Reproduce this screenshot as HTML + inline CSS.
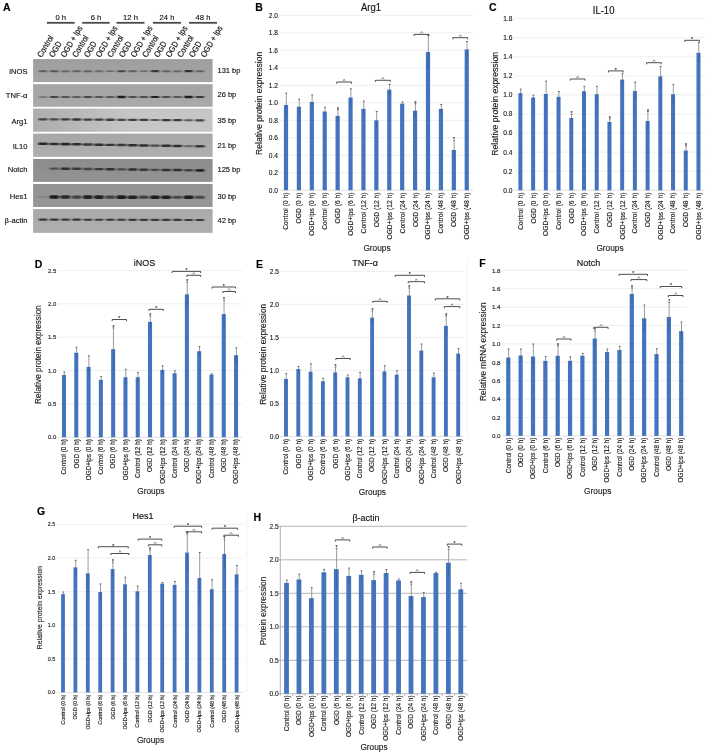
<!DOCTYPE html>
<html><head><meta charset="utf-8"><title>Figure</title>
<style>
html,body{margin:0;padding:0;background:#fff;}
body{width:708px;height:755px;overflow:hidden;}
svg{display:block;font-family:"Liberation Sans", sans-serif;filter:blur(0.35px);}
text{stroke:currentColor;stroke-width:0.14px;}
</style></head><body>
<svg width="708" height="755" viewBox="0 0 708 755">
<rect x="0" y="0" width="708" height="755" fill="#fff"/>
<text x="3" y="11" font-size="10.5" text-anchor="start" font-weight="bold" fill="#000" color="#000">A</text>
<defs><filter id="bb" x="-20%" y="-200%" width="140%" height="500%"><feGaussianBlur stdDeviation="0.9 0.6"/></filter>
<linearGradient id="g0" x1="0" y1="0" x2="0" y2="1"><stop offset="0" stop-color="#9e9e9e"/><stop offset="1" stop-color="#a6a6a6"/></linearGradient>
<linearGradient id="g1" x1="0" y1="0" x2="0" y2="1"><stop offset="0" stop-color="#a3a3a3"/><stop offset="1" stop-color="#aaaaaa"/></linearGradient>
<linearGradient id="g2" x1="0" y1="0" x2="1" y2="0"><stop offset="0" stop-color="#adadad"/><stop offset="0.55" stop-color="#c6c6c6"/><stop offset="1" stop-color="#c6c6c6"/></linearGradient>
<linearGradient id="g3" x1="0" y1="0" x2="0" y2="1"><stop offset="0" stop-color="#a7a7a7"/><stop offset="1" stop-color="#afafaf"/></linearGradient>
<linearGradient id="g4" x1="0" y1="0" x2="0" y2="1"><stop offset="0" stop-color="#8c8c8c"/><stop offset="1" stop-color="#939393"/></linearGradient>
<linearGradient id="g5" x1="0" y1="0" x2="0" y2="1"><stop offset="0" stop-color="#939393"/><stop offset="1" stop-color="#979797"/></linearGradient>
<linearGradient id="g6" x1="0" y1="0" x2="0" y2="1"><stop offset="0" stop-color="#a9a9a9"/><stop offset="1" stop-color="#afafaf"/></linearGradient>
</defs>
<rect x="33.1" y="59.1" width="179.5" height="23" fill="url(#g0)"/>
<text x="27.5" y="74" font-size="7.6" text-anchor="end" fill="#111" color="#111">iNOS</text>
<text x="217.5" y="73" font-size="7.5" text-anchor="start" fill="#111" color="#111">131 bp</text>
<g filter="url(#bb)"><rect x="38.7" y="70.22" width="8.6" height="1.96" rx="0.98" fill="rgb(92,92,92)"/><rect x="49.9" y="70.19" width="8.6" height="2.01" rx="1.01" fill="rgb(85,85,85)"/><rect x="61.1" y="70.27" width="8.6" height="1.86" rx="0.93" fill="rgb(104,104,104)"/><rect x="72.3" y="70.24" width="8.6" height="1.93" rx="0.96" fill="rgb(95,95,95)"/><rect x="83.5" y="70.24" width="8.6" height="1.93" rx="0.96" fill="rgb(95,95,95)"/><rect x="94.7" y="70.27" width="8.6" height="1.86" rx="0.93" fill="rgb(104,104,104)"/><rect x="105.9" y="70.3" width="8.6" height="1.81" rx="0.9" fill="rgb(111,111,111)"/><rect x="117.1" y="70.13" width="8.6" height="2.14" rx="1.07" fill="rgb(69,69,69)"/><rect x="128.3" y="70.22" width="8.6" height="1.96" rx="0.98" fill="rgb(92,92,92)"/><rect x="139.5" y="70.3" width="8.6" height="1.81" rx="0.9" fill="rgb(111,111,111)"/><rect x="150.7" y="70.08" width="8.6" height="2.24" rx="1.12" fill="rgb(56,56,56)"/><rect x="161.9" y="70.25" width="8.6" height="1.91" rx="0.95" fill="rgb(98,98,98)"/><rect x="173.1" y="70.27" width="8.6" height="1.86" rx="0.93" fill="rgb(104,104,104)"/><rect x="184.3" y="70.04" width="8.6" height="2.32" rx="1.16" fill="rgb(46,46,46)"/><rect x="195.5" y="70.25" width="8.6" height="1.91" rx="0.95" fill="rgb(98,98,98)"/></g>
<rect x="33.1" y="84.2" width="179.5" height="22.6" fill="url(#g1)"/>
<text x="27.5" y="98.2" font-size="7.6" text-anchor="end" fill="#111" color="#111">TNF-α</text>
<text x="217.5" y="96.7" font-size="7.5" text-anchor="start" fill="#111" color="#111">26 bp</text>
<g filter="url(#bb)"><rect x="38.5" y="96.18" width="9" height="1.65" rx="0.82" fill="rgb(111,111,111)"/><rect x="49.7" y="96.02" width="9" height="1.95" rx="0.98" fill="rgb(69,69,69)"/><rect x="60.9" y="96.08" width="9" height="1.84" rx="0.92" fill="rgb(85,85,85)"/><rect x="72.1" y="96.1" width="9" height="1.79" rx="0.9" fill="rgb(92,92,92)"/><rect x="83.3" y="96.02" width="9" height="1.95" rx="0.98" fill="rgb(69,69,69)"/><rect x="94.5" y="96.08" width="9" height="1.84" rx="0.92" fill="rgb(85,85,85)"/><rect x="105.7" y="96.08" width="9" height="1.84" rx="0.92" fill="rgb(85,85,85)"/><rect x="116.9" y="95.87" width="9" height="2.26" rx="1.13" fill="rgb(26,26,26)"/><rect x="128.1" y="96.06" width="9" height="1.88" rx="0.94" fill="rgb(78,78,78)"/><rect x="139.3" y="96.06" width="9" height="1.88" rx="0.94" fill="rgb(78,78,78)"/><rect x="150.5" y="95.88" width="9" height="2.23" rx="1.12" fill="rgb(30,30,30)"/><rect x="161.7" y="96.06" width="9" height="1.88" rx="0.94" fill="rgb(78,78,78)"/><rect x="172.9" y="96.08" width="9" height="1.84" rx="0.92" fill="rgb(85,85,85)"/><rect x="184.1" y="95.87" width="9" height="2.26" rx="1.13" fill="rgb(26,26,26)"/><rect x="195.3" y="95.98" width="9" height="2.05" rx="1.02" fill="rgb(56,56,56)"/></g>
<rect x="33.1" y="108.6" width="179.5" height="23.2" fill="url(#g2)"/>
<text x="27.5" y="124.4" font-size="7.6" text-anchor="end" fill="#111" color="#111">Arg1</text>
<text x="217.5" y="123.4" font-size="7.5" text-anchor="start" fill="#111" color="#111">35 bp</text>
<g filter="url(#bb)"><rect x="38.3" y="118.17" width="9.4" height="2.26" rx="1.13" fill="rgb(66,66,66)"/><rect x="49.5" y="118.27" width="9.4" height="2.21" rx="1.1" fill="rgb(72,72,72)"/><rect x="60.7" y="118.28" width="9.4" height="2.32" rx="1.16" fill="rgb(59,59,59)"/><rect x="71.9" y="118.33" width="9.4" height="2.37" rx="1.19" fill="rgb(52,52,52)"/><rect x="83.1" y="118.43" width="9.4" height="2.32" rx="1.16" fill="rgb(59,59,59)"/><rect x="94.3" y="118.5" width="9.4" height="2.32" rx="1.16" fill="rgb(59,59,59)"/><rect x="105.5" y="118.57" width="9.4" height="2.32" rx="1.16" fill="rgb(59,59,59)"/><rect x="116.7" y="118.7" width="9.4" height="2.21" rx="1.1" fill="rgb(72,72,72)"/><rect x="127.9" y="118.71" width="9.4" height="2.32" rx="1.16" fill="rgb(59,59,59)"/><rect x="139.1" y="118.78" width="9.4" height="2.32" rx="1.16" fill="rgb(59,59,59)"/><rect x="150.3" y="118.96" width="9.4" height="2.1" rx="1.05" fill="rgb(85,85,85)"/><rect x="161.5" y="118.9" width="9.4" height="2.37" rx="1.19" fill="rgb(52,52,52)"/><rect x="172.7" y="119" width="9.4" height="2.32" rx="1.16" fill="rgb(59,59,59)"/><rect x="183.9" y="119.21" width="9.4" height="2.05" rx="1.02" fill="rgb(92,92,92)"/><rect x="195.1" y="119.17" width="9.4" height="2.26" rx="1.13" fill="rgb(66,66,66)"/></g>
<rect x="33.1" y="133.6" width="179.5" height="23.3" fill="url(#g3)"/>
<text x="27.5" y="149.4" font-size="7.6" text-anchor="end" fill="#111" color="#111">IL10</text>
<text x="217.5" y="148.4" font-size="7.5" text-anchor="start" fill="#111" color="#111">21 bp</text>
<g filter="url(#bb)"><rect x="38" y="142.51" width="10" height="2.58" rx="1.29" fill="rgb(40,40,40)"/><rect x="49.2" y="142.72" width="10" height="2.52" rx="1.26" fill="rgb(46,46,46)"/><rect x="60.4" y="142.87" width="10" height="2.58" rx="1.29" fill="rgb(40,40,40)"/><rect x="71.6" y="143.07" width="10" height="2.52" rx="1.26" fill="rgb(46,46,46)"/><rect x="82.8" y="143.28" width="10" height="2.47" rx="1.23" fill="rgb(52,52,52)"/><rect x="94" y="143.43" width="10" height="2.52" rx="1.26" fill="rgb(46,46,46)"/><rect x="105.2" y="143.64" width="10" height="2.47" rx="1.23" fill="rgb(52,52,52)"/><rect x="116.4" y="143.84" width="10" height="2.41" rx="1.21" fill="rgb(59,59,59)"/><rect x="127.6" y="143.97" width="10" height="2.52" rx="1.26" fill="rgb(46,46,46)"/><rect x="138.8" y="144.14" width="10" height="2.52" rx="1.26" fill="rgb(46,46,46)"/><rect x="150" y="144.44" width="10" height="2.3" rx="1.15" fill="rgb(72,72,72)"/><rect x="161.2" y="144.5" width="10" height="2.52" rx="1.26" fill="rgb(46,46,46)"/><rect x="172.4" y="144.68" width="10" height="2.52" rx="1.26" fill="rgb(46,46,46)"/><rect x="183.6" y="145.11" width="10" height="2.02" rx="1.01" fill="rgb(104,104,104)"/><rect x="194.8" y="145.09" width="10" height="2.41" rx="1.21" fill="rgb(59,59,59)"/></g>
<rect x="33.1" y="159" width="179.5" height="22.9" fill="url(#g4)"/>
<text x="27.5" y="172" font-size="7.6" text-anchor="end" fill="#111" color="#111">Notch</text>
<text x="217.5" y="171.7" font-size="7.5" text-anchor="start" fill="#111" color="#111">125 bp</text>
<g filter="url(#bb)"><rect x="49.5" y="167.42" width="9.4" height="2.24" rx="1.12" fill="rgb(78,78,78)"/><rect x="60.7" y="167.42" width="9.4" height="2.52" rx="1.26" fill="rgb(46,46,46)"/><rect x="71.9" y="167.59" width="9.4" height="2.47" rx="1.23" fill="rgb(52,52,52)"/><rect x="83.1" y="167.79" width="9.4" height="2.36" rx="1.18" fill="rgb(66,66,66)"/><rect x="94.3" y="167.88" width="9.4" height="2.47" rx="1.23" fill="rgb(52,52,52)"/><rect x="105.5" y="167.99" width="9.4" height="2.52" rx="1.26" fill="rgb(46,46,46)"/><rect x="116.7" y="168.25" width="9.4" height="2.3" rx="1.15" fill="rgb(72,72,72)"/><rect x="127.9" y="168.28" width="9.4" height="2.52" rx="1.26" fill="rgb(46,46,46)"/><rect x="139.1" y="168.45" width="9.4" height="2.47" rx="1.23" fill="rgb(52,52,52)"/><rect x="150.3" y="168.68" width="9.4" height="2.3" rx="1.15" fill="rgb(72,72,72)"/><rect x="161.5" y="168.71" width="9.4" height="2.52" rx="1.26" fill="rgb(46,46,46)"/><rect x="172.7" y="168.85" width="9.4" height="2.52" rx="1.26" fill="rgb(46,46,46)"/><rect x="183.9" y="169.08" width="9.4" height="2.36" rx="1.18" fill="rgb(66,66,66)"/><rect x="195.1" y="169.11" width="9.4" height="2.58" rx="1.29" fill="rgb(40,40,40)"/></g>
<rect x="33.1" y="184" width="179.5" height="23" fill="url(#g5)"/>
<text x="27.5" y="198.5" font-size="7.6" text-anchor="end" fill="#111" color="#111">Hes1</text>
<text x="217.5" y="198.5" font-size="7.5" text-anchor="start" fill="#111" color="#111">30 bp</text>
<g filter="url(#bb)"><rect x="38" y="195.8" width="10" height="2.39" rx="1.2" fill="rgb(134,134,134)"/><rect x="49.2" y="195.19" width="10" height="3.66" rx="1.83" fill="rgb(26,26,26)"/><rect x="60.4" y="195.29" width="10" height="3.51" rx="1.76" fill="rgb(40,40,40)"/><rect x="71.6" y="195.46" width="10" height="3.2" rx="1.6" fill="rgb(66,66,66)"/><rect x="82.8" y="195.29" width="10" height="3.59" rx="1.79" fill="rgb(33,33,33)"/><rect x="94" y="195.31" width="10" height="3.59" rx="1.79" fill="rgb(33,33,33)"/><rect x="105.2" y="195.53" width="10" height="3.2" rx="1.6" fill="rgb(66,66,66)"/><rect x="116.4" y="195.32" width="10" height="3.66" rx="1.83" fill="rgb(26,26,26)"/><rect x="127.6" y="195.38" width="10" height="3.59" rx="1.79" fill="rgb(33,33,33)"/><rect x="138.8" y="195.59" width="10" height="3.2" rx="1.6" fill="rgb(66,66,66)"/><rect x="150" y="195.38" width="10" height="3.66" rx="1.83" fill="rgb(26,26,26)"/><rect x="161.2" y="195.44" width="10" height="3.59" rx="1.79" fill="rgb(33,33,33)"/><rect x="172.4" y="195.69" width="10" height="3.13" rx="1.56" fill="rgb(72,72,72)"/><rect x="183.6" y="195.45" width="10" height="3.66" rx="1.83" fill="rgb(26,26,26)"/><rect x="194.8" y="195.74" width="10" height="3.13" rx="1.56" fill="rgb(72,72,72)"/></g>
<rect x="33.1" y="209.1" width="179.5" height="23.8" fill="url(#g6)"/>
<text x="27.5" y="222.8" font-size="7.6" text-anchor="end" fill="#111" color="#111">β-actin</text>
<text x="217.5" y="222.5" font-size="7.5" text-anchor="start" fill="#111" color="#111">42 bp</text>
<g filter="url(#bb)"><rect x="38.5" y="218.51" width="9" height="2.17" rx="1.09" fill="rgb(52,52,52)"/><rect x="49.7" y="218.54" width="9" height="2.17" rx="1.09" fill="rgb(52,52,52)"/><rect x="60.9" y="218.6" width="9" height="2.12" rx="1.06" fill="rgb(59,59,59)"/><rect x="72.1" y="218.6" width="9" height="2.17" rx="1.09" fill="rgb(52,52,52)"/><rect x="83.3" y="218.63" width="9" height="2.17" rx="1.09" fill="rgb(52,52,52)"/><rect x="94.5" y="218.68" width="9" height="2.12" rx="1.06" fill="rgb(59,59,59)"/><rect x="105.7" y="218.69" width="9" height="2.17" rx="1.09" fill="rgb(52,52,52)"/><rect x="116.9" y="218.73" width="9" height="2.14" rx="1.07" fill="rgb(56,56,56)"/><rect x="128.1" y="218.76" width="9" height="2.14" rx="1.07" fill="rgb(56,56,56)"/><rect x="139.3" y="218.79" width="9" height="2.14" rx="1.07" fill="rgb(56,56,56)"/><rect x="150.5" y="218.82" width="9" height="2.12" rx="1.06" fill="rgb(59,59,59)"/><rect x="161.7" y="218.84" width="9" height="2.14" rx="1.07" fill="rgb(56,56,56)"/><rect x="172.9" y="218.87" width="9" height="2.14" rx="1.07" fill="rgb(56,56,56)"/><rect x="184.1" y="218.9" width="9" height="2.14" rx="1.07" fill="rgb(56,56,56)"/><rect x="195.3" y="218.93" width="9" height="2.14" rx="1.07" fill="rgb(56,56,56)"/></g>
<line x1="46.9" y1="22.8" x2="74.7" y2="22.8" stroke="#4a4a4a" stroke-width="1.8"/>
<text x="60.8" y="19.6" font-size="7.6" text-anchor="middle" fill="#111" color="#111">0 h</text>
<line x1="82.2" y1="22.8" x2="109.7" y2="22.8" stroke="#4a4a4a" stroke-width="1.8"/>
<text x="95.95" y="19.6" font-size="7.6" text-anchor="middle" fill="#111" color="#111">6 h</text>
<line x1="116.5" y1="22.8" x2="144.5" y2="22.8" stroke="#4a4a4a" stroke-width="1.8"/>
<text x="130.5" y="19.6" font-size="7.6" text-anchor="middle" fill="#111" color="#111">12 h</text>
<line x1="153" y1="22.8" x2="181" y2="22.8" stroke="#4a4a4a" stroke-width="1.8"/>
<text x="167" y="19.6" font-size="7.6" text-anchor="middle" fill="#111" color="#111">24 h</text>
<line x1="189" y1="22.8" x2="217" y2="22.8" stroke="#4a4a4a" stroke-width="1.8"/>
<text x="203" y="19.6" font-size="7.6" text-anchor="middle" fill="#111" color="#111">48 h</text>
<text font-size="7.4" fill="#111" color="#111" transform="translate(41.8 58) rotate(-59.5) scale(1 1.15)">Control</text>
<text font-size="7.4" fill="#111" color="#111" transform="translate(53.47 58) rotate(-59.5) scale(1 1.15)">OGD</text>
<text font-size="7.4" fill="#111" color="#111" transform="translate(65.14 58) rotate(-59.5) scale(1 1.15)">OGD + lps</text>
<text font-size="7.4" fill="#111" color="#111" transform="translate(76.81 58) rotate(-59.5) scale(1 1.15)">Control</text>
<text font-size="7.4" fill="#111" color="#111" transform="translate(88.48 58) rotate(-59.5) scale(1 1.15)">OGD</text>
<text font-size="7.4" fill="#111" color="#111" transform="translate(100.15 58) rotate(-59.5) scale(1 1.15)">OGD + lps</text>
<text font-size="7.4" fill="#111" color="#111" transform="translate(111.82 58) rotate(-59.5) scale(1 1.15)">Control</text>
<text font-size="7.4" fill="#111" color="#111" transform="translate(123.49 58) rotate(-59.5) scale(1 1.15)">OGD</text>
<text font-size="7.4" fill="#111" color="#111" transform="translate(135.16 58) rotate(-59.5) scale(1 1.15)">OGD + lps</text>
<text font-size="7.4" fill="#111" color="#111" transform="translate(146.83 58) rotate(-59.5) scale(1 1.15)">Control</text>
<text font-size="7.4" fill="#111" color="#111" transform="translate(158.5 58) rotate(-59.5) scale(1 1.15)">OGD</text>
<text font-size="7.4" fill="#111" color="#111" transform="translate(170.17 58) rotate(-59.5) scale(1 1.15)">OGD + lps</text>
<text font-size="7.4" fill="#111" color="#111" transform="translate(181.84 58) rotate(-59.5) scale(1 1.15)">Control</text>
<text font-size="7.4" fill="#111" color="#111" transform="translate(193.51 58) rotate(-59.5) scale(1 1.15)">OGD</text>
<text font-size="7.4" fill="#111" color="#111" transform="translate(205.18 58) rotate(-59.5) scale(1 1.15)">OGD + lps</text>
<line x1="279.55" y1="190.25" x2="473.19" y2="190.25" stroke="#d9d9d9" stroke-width="0.8"/>
<text x="277.94" y="192.63" font-size="6.6" text-anchor="end" fill="#222" color="#222">0.0</text>
<line x1="279.55" y1="172.75" x2="473.19" y2="172.75" stroke="#ebebeb" stroke-width="0.8"/>
<text x="277.94" y="175.13" font-size="6.6" text-anchor="end" fill="#222" color="#222">0.2</text>
<line x1="279.55" y1="155.25" x2="473.19" y2="155.25" stroke="#ebebeb" stroke-width="0.8"/>
<text x="277.94" y="157.63" font-size="6.6" text-anchor="end" fill="#222" color="#222">0.4</text>
<line x1="279.55" y1="137.75" x2="473.19" y2="137.75" stroke="#ebebeb" stroke-width="0.8"/>
<text x="277.94" y="140.13" font-size="6.6" text-anchor="end" fill="#222" color="#222">0.6</text>
<line x1="279.55" y1="120.25" x2="473.19" y2="120.25" stroke="#ebebeb" stroke-width="0.8"/>
<text x="277.94" y="122.63" font-size="6.6" text-anchor="end" fill="#222" color="#222">0.8</text>
<line x1="279.55" y1="102.75" x2="473.19" y2="102.75" stroke="#ebebeb" stroke-width="0.8"/>
<text x="277.94" y="105.13" font-size="6.6" text-anchor="end" fill="#222" color="#222">1.0</text>
<line x1="279.55" y1="85.25" x2="473.19" y2="85.25" stroke="#ebebeb" stroke-width="0.8"/>
<text x="277.94" y="87.63" font-size="6.6" text-anchor="end" fill="#222" color="#222">1.2</text>
<line x1="279.55" y1="67.75" x2="473.19" y2="67.75" stroke="#ebebeb" stroke-width="0.8"/>
<text x="277.94" y="70.13" font-size="6.6" text-anchor="end" fill="#222" color="#222">1.4</text>
<line x1="279.55" y1="50.25" x2="473.19" y2="50.25" stroke="#ebebeb" stroke-width="0.8"/>
<text x="277.94" y="52.63" font-size="6.6" text-anchor="end" fill="#222" color="#222">1.6</text>
<line x1="279.55" y1="32.75" x2="473.19" y2="32.75" stroke="#ebebeb" stroke-width="0.8"/>
<text x="277.94" y="35.13" font-size="6.6" text-anchor="end" fill="#222" color="#222">1.8</text>
<line x1="279.55" y1="15.25" x2="473.19" y2="15.25" stroke="#ebebeb" stroke-width="0.8"/>
<text x="277.94" y="17.63" font-size="6.6" text-anchor="end" fill="#222" color="#222">2.0</text>
<rect x="283.9" y="104.94" width="4.2" height="85.31" fill="#4474bd"/>
<line x1="286.3" y1="104.94" x2="286.3" y2="116.75" stroke="#35609e" stroke-width="0.7"/>
<line x1="286.3" y1="104.94" x2="286.3" y2="93.12" stroke="#909090" stroke-width="0.9"/>
<line x1="285.4" y1="93.12" x2="287.2" y2="93.12" stroke="#555" stroke-width="0.9"/>
<text x="288.41" y="192.55" font-size="6.7" text-anchor="end" fill="#222" color="#222" transform="rotate(-90 288.41 192.55)">Control (0 h)</text>
<rect x="296.81" y="106.69" width="4.2" height="83.56" fill="#4474bd"/>
<line x1="299.21" y1="106.69" x2="299.21" y2="114.12" stroke="#35609e" stroke-width="0.7"/>
<line x1="299.21" y1="106.69" x2="299.21" y2="99.25" stroke="#909090" stroke-width="0.9"/>
<line x1="298.31" y1="99.25" x2="300.11" y2="99.25" stroke="#555" stroke-width="0.9"/>
<text x="301.32" y="192.55" font-size="6.7" text-anchor="end" fill="#222" color="#222" transform="rotate(-90 301.32 192.55)">OGD (0 h)</text>
<rect x="309.72" y="101.88" width="4.2" height="88.38" fill="#4474bd"/>
<line x1="312.12" y1="101.88" x2="312.12" y2="108.88" stroke="#35609e" stroke-width="0.7"/>
<line x1="312.12" y1="101.88" x2="312.12" y2="94.88" stroke="#909090" stroke-width="0.9"/>
<line x1="311.22" y1="94.88" x2="313.02" y2="94.88" stroke="#555" stroke-width="0.9"/>
<text x="314.23" y="192.55" font-size="6.7" text-anchor="end" fill="#222" color="#222" transform="rotate(-90 314.23 192.55)">OGD+lps (0 h)</text>
<rect x="322.63" y="111.5" width="4.2" height="78.75" fill="#4474bd"/>
<line x1="325.03" y1="111.5" x2="325.03" y2="115.88" stroke="#35609e" stroke-width="0.7"/>
<line x1="325.03" y1="111.5" x2="325.03" y2="107.12" stroke="#909090" stroke-width="0.9"/>
<line x1="324.13" y1="107.12" x2="325.93" y2="107.12" stroke="#555" stroke-width="0.9"/>
<text x="327.14" y="192.55" font-size="6.7" text-anchor="end" fill="#222" color="#222" transform="rotate(-90 327.14 192.55)">Control (6 h)</text>
<rect x="335.54" y="115.88" width="4.2" height="74.38" fill="#4474bd"/>
<line x1="337.94" y1="115.88" x2="337.94" y2="122" stroke="#35609e" stroke-width="0.7"/>
<line x1="337.94" y1="115.88" x2="337.94" y2="109.75" stroke="#909090" stroke-width="0.9"/>
<line x1="337.04" y1="109.75" x2="338.84" y2="109.75" stroke="#555" stroke-width="0.9"/>
<text x="337.94" y="110.75" font-size="5.2" text-anchor="middle" fill="#333" color="#333">*</text>
<text x="340.05" y="192.55" font-size="6.7" text-anchor="end" fill="#222" color="#222" transform="rotate(-90 340.05 192.55)">OGD (6 h)</text>
<rect x="348.45" y="97.5" width="4.2" height="92.75" fill="#4474bd"/>
<line x1="350.85" y1="97.5" x2="350.85" y2="106.25" stroke="#35609e" stroke-width="0.7"/>
<line x1="350.85" y1="97.5" x2="350.85" y2="88.75" stroke="#909090" stroke-width="0.9"/>
<line x1="349.95" y1="88.75" x2="351.75" y2="88.75" stroke="#555" stroke-width="0.9"/>
<text x="352.96" y="192.55" font-size="6.7" text-anchor="end" fill="#222" color="#222" transform="rotate(-90 352.96 192.55)">OGD+lps (6 h)</text>
<rect x="361.36" y="108.88" width="4.2" height="81.38" fill="#4474bd"/>
<line x1="363.76" y1="108.88" x2="363.76" y2="116.75" stroke="#35609e" stroke-width="0.7"/>
<line x1="363.76" y1="108.88" x2="363.76" y2="101" stroke="#909090" stroke-width="0.9"/>
<line x1="362.86" y1="101" x2="364.66" y2="101" stroke="#555" stroke-width="0.9"/>
<text x="365.87" y="192.55" font-size="6.7" text-anchor="end" fill="#222" color="#222" transform="rotate(-90 365.87 192.55)">Control (12 h)</text>
<rect x="374.27" y="120.25" width="4.2" height="70" fill="#4474bd"/>
<line x1="376.67" y1="120.25" x2="376.67" y2="129" stroke="#35609e" stroke-width="0.7"/>
<line x1="376.67" y1="120.25" x2="376.67" y2="111.5" stroke="#909090" stroke-width="0.9"/>
<line x1="375.77" y1="111.5" x2="377.57" y2="111.5" stroke="#555" stroke-width="0.9"/>
<text x="378.78" y="192.55" font-size="6.7" text-anchor="end" fill="#222" color="#222" transform="rotate(-90 378.78 192.55)">OGD (12 h)</text>
<rect x="387.18" y="89.63" width="4.2" height="100.62" fill="#4474bd"/>
<line x1="389.58" y1="89.63" x2="389.58" y2="94.88" stroke="#35609e" stroke-width="0.7"/>
<line x1="389.58" y1="89.63" x2="389.58" y2="84.38" stroke="#909090" stroke-width="0.9"/>
<line x1="388.68" y1="84.38" x2="390.48" y2="84.38" stroke="#555" stroke-width="0.9"/>
<text x="391.69" y="192.55" font-size="6.7" text-anchor="end" fill="#222" color="#222" transform="rotate(-90 391.69 192.55)">OGD+lps (12 h)</text>
<rect x="400.09" y="103.62" width="4.2" height="86.62" fill="#4474bd"/>
<line x1="402.49" y1="103.62" x2="402.49" y2="105.38" stroke="#35609e" stroke-width="0.7"/>
<line x1="402.49" y1="103.62" x2="402.49" y2="101.88" stroke="#909090" stroke-width="0.9"/>
<line x1="401.59" y1="101.88" x2="403.39" y2="101.88" stroke="#555" stroke-width="0.9"/>
<text x="404.6" y="192.55" font-size="6.7" text-anchor="end" fill="#222" color="#222" transform="rotate(-90 404.6 192.55)">Control (24 h)</text>
<rect x="413" y="110.62" width="4.2" height="79.62" fill="#4474bd"/>
<line x1="415.4" y1="110.62" x2="415.4" y2="117.62" stroke="#35609e" stroke-width="0.7"/>
<line x1="415.4" y1="110.62" x2="415.4" y2="103.62" stroke="#909090" stroke-width="0.9"/>
<line x1="414.5" y1="103.62" x2="416.3" y2="103.62" stroke="#555" stroke-width="0.9"/>
<text x="415.4" y="104.62" font-size="5.2" text-anchor="middle" fill="#333" color="#333">*</text>
<text x="417.51" y="192.55" font-size="6.7" text-anchor="end" fill="#222" color="#222" transform="rotate(-90 417.51 192.55)">OGD (24 h)</text>
<rect x="425.91" y="52" width="4.2" height="138.25" fill="#4474bd"/>
<line x1="428.31" y1="52" x2="428.31" y2="68.62" stroke="#35609e" stroke-width="0.7"/>
<line x1="428.31" y1="52" x2="428.31" y2="35.38" stroke="#909090" stroke-width="0.9"/>
<line x1="427.41" y1="35.38" x2="429.21" y2="35.38" stroke="#555" stroke-width="0.9"/>
<text x="430.42" y="192.55" font-size="6.7" text-anchor="end" fill="#222" color="#222" transform="rotate(-90 430.42 192.55)">OGD+lps (24 h)</text>
<rect x="438.82" y="108.88" width="4.2" height="81.38" fill="#4474bd"/>
<line x1="441.22" y1="108.88" x2="441.22" y2="113.25" stroke="#35609e" stroke-width="0.7"/>
<line x1="441.22" y1="108.88" x2="441.22" y2="104.5" stroke="#909090" stroke-width="0.9"/>
<line x1="440.32" y1="104.5" x2="442.12" y2="104.5" stroke="#555" stroke-width="0.9"/>
<text x="443.33" y="192.55" font-size="6.7" text-anchor="end" fill="#222" color="#222" transform="rotate(-90 443.33 192.55)">Control (48 h)</text>
<rect x="451.73" y="150" width="4.2" height="40.25" fill="#4474bd"/>
<line x1="454.13" y1="150" x2="454.13" y2="159.62" stroke="#35609e" stroke-width="0.7"/>
<line x1="454.13" y1="150" x2="454.13" y2="140.38" stroke="#909090" stroke-width="0.9"/>
<line x1="453.23" y1="140.38" x2="455.03" y2="140.38" stroke="#555" stroke-width="0.9"/>
<text x="454.13" y="141.38" font-size="5.2" text-anchor="middle" fill="#333" color="#333">*</text>
<text x="456.24" y="192.55" font-size="6.7" text-anchor="end" fill="#222" color="#222" transform="rotate(-90 456.24 192.55)">OGD (48 h)</text>
<rect x="464.64" y="49.38" width="4.2" height="140.88" fill="#4474bd"/>
<line x1="467.04" y1="49.38" x2="467.04" y2="57.25" stroke="#35609e" stroke-width="0.7"/>
<line x1="467.04" y1="49.38" x2="467.04" y2="41.5" stroke="#909090" stroke-width="0.9"/>
<line x1="466.14" y1="41.5" x2="467.94" y2="41.5" stroke="#555" stroke-width="0.9"/>
<text x="469.15" y="192.55" font-size="6.7" text-anchor="end" fill="#222" color="#222" transform="rotate(-90 469.15 192.55)">OGD+lps (48 h)</text>
<path d="M336.64 83.6 V82 H351.55 V83.6" fill="none" stroke="#3a3a3a" stroke-width="0.9"/>
<path d="M342.8 81 L344.1 79.2 L345.4 81" fill="none" stroke="#444" stroke-width="0.6"/>
<path d="M375.37 81.9 V80.3 H390.28 V81.9" fill="none" stroke="#3a3a3a" stroke-width="0.9"/>
<path d="M381.52 79.3 L382.82 77.5 L384.12 79.3" fill="none" stroke="#444" stroke-width="0.6"/>
<path d="M414.1 36 V34.4 H429.01 V36" fill="none" stroke="#3a3a3a" stroke-width="0.9"/>
<path d="M420.25 33.4 L421.56 31.6 L422.86 33.4" fill="none" stroke="#444" stroke-width="0.6"/>
<path d="M452.83 39.3 V37.7 H467.74 V39.3" fill="none" stroke="#3a3a3a" stroke-width="0.9"/>
<path d="M458.99 36.7 L460.29 34.9 L461.59 36.7" fill="none" stroke="#444" stroke-width="0.6"/>
<text font-size="9.5" text-anchor="middle" fill="#111" color="#111" transform="translate(371 10.7) scale(1 1.08)">Arg1</text>
<text x="255.3" y="11.3" font-size="10.5" text-anchor="start" font-weight="bold" fill="#000" color="#000">B</text>
<text x="377" y="250.8" font-size="8.3" text-anchor="middle" fill="#222" color="#222">Groups</text>
<text x="262" y="103.4" font-size="8.55" text-anchor="middle" fill="#222" color="#222" transform="rotate(-90 262 103.4)">Relative protein expression</text>
<line x1="514.04" y1="190.3" x2="704.84" y2="190.3" stroke="#d9d9d9" stroke-width="0.8"/>
<text x="512.44" y="192.68" font-size="6.6" text-anchor="end" fill="#222" color="#222">0.0</text>
<line x1="514.04" y1="171.22" x2="704.84" y2="171.22" stroke="#ebebeb" stroke-width="0.8"/>
<text x="512.44" y="173.6" font-size="6.6" text-anchor="end" fill="#222" color="#222">0.2</text>
<line x1="514.04" y1="152.14" x2="704.84" y2="152.14" stroke="#ebebeb" stroke-width="0.8"/>
<text x="512.44" y="154.52" font-size="6.6" text-anchor="end" fill="#222" color="#222">0.4</text>
<line x1="514.04" y1="133.06" x2="704.84" y2="133.06" stroke="#ebebeb" stroke-width="0.8"/>
<text x="512.44" y="135.44" font-size="6.6" text-anchor="end" fill="#222" color="#222">0.6</text>
<line x1="514.04" y1="113.98" x2="704.84" y2="113.98" stroke="#ebebeb" stroke-width="0.8"/>
<text x="512.44" y="116.36" font-size="6.6" text-anchor="end" fill="#222" color="#222">0.8</text>
<line x1="514.04" y1="94.9" x2="704.84" y2="94.9" stroke="#ebebeb" stroke-width="0.8"/>
<text x="512.44" y="97.28" font-size="6.6" text-anchor="end" fill="#222" color="#222">1.0</text>
<line x1="514.04" y1="75.82" x2="704.84" y2="75.82" stroke="#ebebeb" stroke-width="0.8"/>
<text x="512.44" y="78.2" font-size="6.6" text-anchor="end" fill="#222" color="#222">1.2</text>
<line x1="514.04" y1="56.74" x2="704.84" y2="56.74" stroke="#ebebeb" stroke-width="0.8"/>
<text x="512.44" y="59.12" font-size="6.6" text-anchor="end" fill="#222" color="#222">1.4</text>
<line x1="514.04" y1="37.66" x2="704.84" y2="37.66" stroke="#ebebeb" stroke-width="0.8"/>
<text x="512.44" y="40.04" font-size="6.6" text-anchor="end" fill="#222" color="#222">1.6</text>
<line x1="514.04" y1="18.58" x2="704.84" y2="18.58" stroke="#ebebeb" stroke-width="0.8"/>
<text x="512.44" y="20.96" font-size="6.6" text-anchor="end" fill="#222" color="#222">1.8</text>
<rect x="518.4" y="93.18" width="4" height="97.12" fill="#4474bd"/>
<line x1="520.7" y1="93.18" x2="520.7" y2="97.19" stroke="#35609e" stroke-width="0.7"/>
<line x1="520.7" y1="93.18" x2="520.7" y2="89.18" stroke="#909090" stroke-width="0.9"/>
<line x1="519.8" y1="89.18" x2="521.6" y2="89.18" stroke="#555" stroke-width="0.9"/>
<text x="522.81" y="192.6" font-size="6.7" text-anchor="end" fill="#222" color="#222" transform="rotate(-90 522.81 192.6)">Control (0 h)</text>
<rect x="531.12" y="97.48" width="4" height="92.82" fill="#4474bd"/>
<line x1="533.42" y1="97.48" x2="533.42" y2="99.77" stroke="#35609e" stroke-width="0.7"/>
<line x1="533.42" y1="97.48" x2="533.42" y2="95.19" stroke="#909090" stroke-width="0.9"/>
<line x1="532.52" y1="95.19" x2="534.32" y2="95.19" stroke="#555" stroke-width="0.9"/>
<text x="535.53" y="192.6" font-size="6.7" text-anchor="end" fill="#222" color="#222" transform="rotate(-90 535.53 192.6)">OGD (0 h)</text>
<rect x="543.84" y="93.95" width="4" height="96.35" fill="#4474bd"/>
<line x1="546.14" y1="93.95" x2="546.14" y2="106.73" stroke="#35609e" stroke-width="0.7"/>
<line x1="546.14" y1="93.95" x2="546.14" y2="81.16" stroke="#909090" stroke-width="0.9"/>
<line x1="545.24" y1="81.16" x2="547.04" y2="81.16" stroke="#555" stroke-width="0.9"/>
<text x="548.25" y="192.6" font-size="6.7" text-anchor="end" fill="#222" color="#222" transform="rotate(-90 548.25 192.6)">OGD+lps (0 h)</text>
<rect x="556.56" y="96.81" width="4" height="93.49" fill="#4474bd"/>
<line x1="558.86" y1="96.81" x2="558.86" y2="102.06" stroke="#35609e" stroke-width="0.7"/>
<line x1="558.86" y1="96.81" x2="558.86" y2="91.56" stroke="#909090" stroke-width="0.9"/>
<line x1="557.96" y1="91.56" x2="559.76" y2="91.56" stroke="#555" stroke-width="0.9"/>
<text x="560.97" y="192.6" font-size="6.7" text-anchor="end" fill="#222" color="#222" transform="rotate(-90 560.97 192.6)">Control (6 h)</text>
<rect x="569.28" y="117.99" width="4" height="72.31" fill="#4474bd"/>
<line x1="571.58" y1="117.99" x2="571.58" y2="121.61" stroke="#35609e" stroke-width="0.7"/>
<line x1="571.58" y1="117.99" x2="571.58" y2="114.36" stroke="#909090" stroke-width="0.9"/>
<line x1="570.68" y1="114.36" x2="572.48" y2="114.36" stroke="#555" stroke-width="0.9"/>
<text x="571.58" y="115.36" font-size="5.2" text-anchor="middle" fill="#333" color="#333">*</text>
<text x="573.69" y="192.6" font-size="6.7" text-anchor="end" fill="#222" color="#222" transform="rotate(-90 573.69 192.6)">OGD (6 h)</text>
<rect x="582" y="91.27" width="4" height="99.03" fill="#4474bd"/>
<line x1="584.3" y1="91.27" x2="584.3" y2="96.24" stroke="#35609e" stroke-width="0.7"/>
<line x1="584.3" y1="91.27" x2="584.3" y2="86.31" stroke="#909090" stroke-width="0.9"/>
<line x1="583.4" y1="86.31" x2="585.2" y2="86.31" stroke="#555" stroke-width="0.9"/>
<text x="586.41" y="192.6" font-size="6.7" text-anchor="end" fill="#222" color="#222" transform="rotate(-90 586.41 192.6)">OGD+lps (6 h)</text>
<rect x="594.72" y="94.23" width="4" height="96.07" fill="#4474bd"/>
<line x1="597.02" y1="94.23" x2="597.02" y2="102.15" stroke="#35609e" stroke-width="0.7"/>
<line x1="597.02" y1="94.23" x2="597.02" y2="86.31" stroke="#909090" stroke-width="0.9"/>
<line x1="596.12" y1="86.31" x2="597.92" y2="86.31" stroke="#555" stroke-width="0.9"/>
<text x="599.13" y="192.6" font-size="6.7" text-anchor="end" fill="#222" color="#222" transform="rotate(-90 599.13 192.6)">Control (12 h)</text>
<rect x="607.44" y="121.9" width="4" height="68.4" fill="#4474bd"/>
<line x1="609.74" y1="121.9" x2="609.74" y2="125.05" stroke="#35609e" stroke-width="0.7"/>
<line x1="609.74" y1="121.9" x2="609.74" y2="118.75" stroke="#909090" stroke-width="0.9"/>
<line x1="608.84" y1="118.75" x2="610.64" y2="118.75" stroke="#555" stroke-width="0.9"/>
<text x="609.74" y="119.75" font-size="5.2" text-anchor="middle" fill="#333" color="#333">*</text>
<text x="611.85" y="192.6" font-size="6.7" text-anchor="end" fill="#222" color="#222" transform="rotate(-90 611.85 192.6)">OGD (12 h)</text>
<rect x="620.16" y="79.54" width="4" height="110.76" fill="#4474bd"/>
<line x1="622.46" y1="79.54" x2="622.46" y2="85.46" stroke="#35609e" stroke-width="0.7"/>
<line x1="622.46" y1="79.54" x2="622.46" y2="73.63" stroke="#909090" stroke-width="0.9"/>
<line x1="621.56" y1="73.63" x2="623.36" y2="73.63" stroke="#555" stroke-width="0.9"/>
<text x="624.57" y="192.6" font-size="6.7" text-anchor="end" fill="#222" color="#222" transform="rotate(-90 624.57 192.6)">OGD+lps (12 h)</text>
<rect x="632.88" y="91.08" width="4" height="99.22" fill="#4474bd"/>
<line x1="635.18" y1="91.08" x2="635.18" y2="100.05" stroke="#35609e" stroke-width="0.7"/>
<line x1="635.18" y1="91.08" x2="635.18" y2="82.12" stroke="#909090" stroke-width="0.9"/>
<line x1="634.28" y1="82.12" x2="636.08" y2="82.12" stroke="#555" stroke-width="0.9"/>
<text x="637.29" y="192.6" font-size="6.7" text-anchor="end" fill="#222" color="#222" transform="rotate(-90 637.29 192.6)">Control (24 h)</text>
<rect x="645.6" y="120.94" width="4" height="69.36" fill="#4474bd"/>
<line x1="647.9" y1="120.94" x2="647.9" y2="130.39" stroke="#35609e" stroke-width="0.7"/>
<line x1="647.9" y1="120.94" x2="647.9" y2="111.5" stroke="#909090" stroke-width="0.9"/>
<line x1="647" y1="111.5" x2="648.8" y2="111.5" stroke="#555" stroke-width="0.9"/>
<text x="647.9" y="112.5" font-size="5.2" text-anchor="middle" fill="#333" color="#333">*</text>
<text x="650.01" y="192.6" font-size="6.7" text-anchor="end" fill="#222" color="#222" transform="rotate(-90 650.01 192.6)">OGD (24 h)</text>
<rect x="658.32" y="76.3" width="4" height="114" fill="#4474bd"/>
<line x1="660.62" y1="76.3" x2="660.62" y2="86.12" stroke="#35609e" stroke-width="0.7"/>
<line x1="660.62" y1="76.3" x2="660.62" y2="66.47" stroke="#909090" stroke-width="0.9"/>
<line x1="659.72" y1="66.47" x2="661.52" y2="66.47" stroke="#555" stroke-width="0.9"/>
<text x="662.73" y="192.6" font-size="6.7" text-anchor="end" fill="#222" color="#222" transform="rotate(-90 662.73 192.6)">OGD+lps (24 h)</text>
<rect x="671.04" y="94.23" width="4" height="96.07" fill="#4474bd"/>
<line x1="673.34" y1="94.23" x2="673.34" y2="104.06" stroke="#35609e" stroke-width="0.7"/>
<line x1="673.34" y1="94.23" x2="673.34" y2="84.41" stroke="#909090" stroke-width="0.9"/>
<line x1="672.44" y1="84.41" x2="674.24" y2="84.41" stroke="#555" stroke-width="0.9"/>
<text x="675.45" y="192.6" font-size="6.7" text-anchor="end" fill="#222" color="#222" transform="rotate(-90 675.45 192.6)">Control (48 h)</text>
<rect x="683.76" y="150.52" width="4" height="39.78" fill="#4474bd"/>
<line x1="686.06" y1="150.52" x2="686.06" y2="155.38" stroke="#35609e" stroke-width="0.7"/>
<line x1="686.06" y1="150.52" x2="686.06" y2="145.65" stroke="#909090" stroke-width="0.9"/>
<line x1="685.16" y1="145.65" x2="686.96" y2="145.65" stroke="#555" stroke-width="0.9"/>
<text x="686.06" y="146.65" font-size="5.2" text-anchor="middle" fill="#333" color="#333">*</text>
<text x="688.17" y="192.6" font-size="6.7" text-anchor="end" fill="#222" color="#222" transform="rotate(-90 688.17 192.6)">OGD (48 h)</text>
<rect x="696.48" y="52.83" width="4" height="137.47" fill="#4474bd"/>
<line x1="698.78" y1="52.83" x2="698.78" y2="62.94" stroke="#35609e" stroke-width="0.7"/>
<line x1="698.78" y1="52.83" x2="698.78" y2="42.72" stroke="#909090" stroke-width="0.9"/>
<line x1="697.88" y1="42.72" x2="699.68" y2="42.72" stroke="#555" stroke-width="0.9"/>
<text x="700.89" y="192.6" font-size="6.7" text-anchor="end" fill="#222" color="#222" transform="rotate(-90 700.89 192.6)">OGD+lps (48 h)</text>
<path d="M570.28 80.6 V79 H585 V80.6" fill="none" stroke="#3a3a3a" stroke-width="0.9"/>
<path d="M576.34 78 L577.64 76.2 L578.94 78" fill="none" stroke="#444" stroke-width="0.6"/>
<path d="M608.44 72.5 V70.9 H623.16 V72.5" fill="none" stroke="#3a3a3a" stroke-width="0.9"/>
<text x="615.8" y="71.8" font-size="5.2" text-anchor="middle" fill="#333" color="#333">*</text>
<path d="M646.6 64.3 V62.7 H661.32 V64.3" fill="none" stroke="#3a3a3a" stroke-width="0.9"/>
<path d="M652.66 61.7 L653.96 59.9 L655.26 61.7" fill="none" stroke="#444" stroke-width="0.6"/>
<path d="M684.76 41.9 V40.3 H699.48 V41.9" fill="none" stroke="#3a3a3a" stroke-width="0.9"/>
<text x="692.12" y="41.2" font-size="5.2" text-anchor="middle" fill="#333" color="#333">*</text>
<text font-size="9.5" text-anchor="middle" fill="#111" color="#111" transform="translate(603.6 14.2) scale(1 1.08)">IL-10</text>
<text x="489" y="11.1" font-size="10.5" text-anchor="start" font-weight="bold" fill="#000" color="#000">C</text>
<text x="610" y="250.8" font-size="8.3" text-anchor="middle" fill="#222" color="#222">Groups</text>
<text x="498" y="103.8" font-size="8.6" text-anchor="middle" fill="#222" color="#222" transform="rotate(-90 498 103.8)">Relative protein expression</text>
<line x1="57.86" y1="437.3" x2="242.21" y2="437.3" stroke="#d9d9d9" stroke-width="0.8"/>
<text x="56.26" y="439.46" font-size="6" text-anchor="end" fill="#222" color="#222">0.0</text>
<line x1="57.86" y1="403.93" x2="242.21" y2="403.93" stroke="#ebebeb" stroke-width="0.8"/>
<text x="56.26" y="406.09" font-size="6" text-anchor="end" fill="#222" color="#222">0.5</text>
<line x1="57.86" y1="370.55" x2="242.21" y2="370.55" stroke="#ebebeb" stroke-width="0.8"/>
<text x="56.26" y="372.71" font-size="6" text-anchor="end" fill="#222" color="#222">1.0</text>
<line x1="57.86" y1="337.18" x2="242.21" y2="337.18" stroke="#ebebeb" stroke-width="0.8"/>
<text x="56.26" y="339.34" font-size="6" text-anchor="end" fill="#222" color="#222">1.5</text>
<line x1="57.86" y1="303.8" x2="242.21" y2="303.8" stroke="#ebebeb" stroke-width="0.8"/>
<text x="56.26" y="305.96" font-size="6" text-anchor="end" fill="#222" color="#222">2.0</text>
<line x1="57.86" y1="270.43" x2="242.21" y2="270.43" stroke="#ebebeb" stroke-width="0.8"/>
<text x="56.26" y="272.59" font-size="6" text-anchor="end" fill="#222" color="#222">2.5</text>
<rect x="61.98" y="375.02" width="4.05" height="62.28" fill="#4474bd"/>
<line x1="64.3" y1="375.02" x2="64.3" y2="377.96" stroke="#35609e" stroke-width="0.7"/>
<line x1="64.3" y1="375.02" x2="64.3" y2="372.09" stroke="#909090" stroke-width="0.9"/>
<line x1="63.4" y1="372.09" x2="65.2" y2="372.09" stroke="#555" stroke-width="0.9"/>
<text x="66.29" y="439.2" font-size="6.35" text-anchor="end" fill="#222" color="#222" transform="rotate(-90 66.29 439.2)">Control (0 h)</text>
<rect x="74.26" y="352.73" width="4.05" height="84.57" fill="#4474bd"/>
<line x1="76.59" y1="352.73" x2="76.59" y2="358.27" stroke="#35609e" stroke-width="0.7"/>
<line x1="76.59" y1="352.73" x2="76.59" y2="347.19" stroke="#909090" stroke-width="0.9"/>
<line x1="75.69" y1="347.19" x2="77.49" y2="347.19" stroke="#555" stroke-width="0.9"/>
<text x="78.58" y="439.2" font-size="6.35" text-anchor="end" fill="#222" color="#222" transform="rotate(-90 78.58 439.2)">OGD (0 h)</text>
<rect x="86.55" y="366.88" width="4.05" height="70.42" fill="#4474bd"/>
<line x1="88.88" y1="366.88" x2="88.88" y2="377.89" stroke="#35609e" stroke-width="0.7"/>
<line x1="88.88" y1="366.88" x2="88.88" y2="355.87" stroke="#909090" stroke-width="0.9"/>
<line x1="87.98" y1="355.87" x2="89.78" y2="355.87" stroke="#555" stroke-width="0.9"/>
<text x="90.87" y="439.2" font-size="6.35" text-anchor="end" fill="#222" color="#222" transform="rotate(-90 90.87 439.2)">OGD+lps (0 h)</text>
<rect x="98.84" y="379.89" width="4.05" height="57.41" fill="#4474bd"/>
<line x1="101.17" y1="379.89" x2="101.17" y2="383.23" stroke="#35609e" stroke-width="0.7"/>
<line x1="101.17" y1="379.89" x2="101.17" y2="376.56" stroke="#909090" stroke-width="0.9"/>
<line x1="100.27" y1="376.56" x2="102.07" y2="376.56" stroke="#555" stroke-width="0.9"/>
<text x="103.16" y="439.2" font-size="6.35" text-anchor="end" fill="#222" color="#222" transform="rotate(-90 103.16 439.2)">Control (6 h)</text>
<rect x="111.13" y="349.19" width="4.05" height="88.11" fill="#4474bd"/>
<line x1="113.46" y1="349.19" x2="113.46" y2="370.55" stroke="#35609e" stroke-width="0.7"/>
<line x1="113.46" y1="349.19" x2="113.46" y2="327.83" stroke="#909090" stroke-width="0.9"/>
<line x1="112.56" y1="327.83" x2="114.36" y2="327.83" stroke="#555" stroke-width="0.9"/>
<text x="113.46" y="328.83" font-size="5.2" text-anchor="middle" fill="#333" color="#333">*</text>
<text x="115.45" y="439.2" font-size="6.35" text-anchor="end" fill="#222" color="#222" transform="rotate(-90 115.45 439.2)">OGD (6 h)</text>
<rect x="123.42" y="377.23" width="4.05" height="60.07" fill="#4474bd"/>
<line x1="125.75" y1="377.23" x2="125.75" y2="385.24" stroke="#35609e" stroke-width="0.7"/>
<line x1="125.75" y1="377.23" x2="125.75" y2="369.22" stroke="#909090" stroke-width="0.9"/>
<line x1="124.85" y1="369.22" x2="126.65" y2="369.22" stroke="#555" stroke-width="0.9"/>
<text x="127.74" y="439.2" font-size="6.35" text-anchor="end" fill="#222" color="#222" transform="rotate(-90 127.74 439.2)">OGD+lps (6 h)</text>
<rect x="135.72" y="377.23" width="4.05" height="60.07" fill="#4474bd"/>
<line x1="138.04" y1="377.23" x2="138.04" y2="381.9" stroke="#35609e" stroke-width="0.7"/>
<line x1="138.04" y1="377.23" x2="138.04" y2="372.55" stroke="#909090" stroke-width="0.9"/>
<line x1="137.14" y1="372.55" x2="138.94" y2="372.55" stroke="#555" stroke-width="0.9"/>
<text x="140.03" y="439.2" font-size="6.35" text-anchor="end" fill="#222" color="#222" transform="rotate(-90 140.03 439.2)">Control (12 h)</text>
<rect x="148" y="321.82" width="4.05" height="115.48" fill="#4474bd"/>
<line x1="150.33" y1="321.82" x2="150.33" y2="327.83" stroke="#35609e" stroke-width="0.7"/>
<line x1="150.33" y1="321.82" x2="150.33" y2="315.81" stroke="#909090" stroke-width="0.9"/>
<line x1="149.43" y1="315.81" x2="151.23" y2="315.81" stroke="#555" stroke-width="0.9"/>
<text x="150.33" y="316.81" font-size="5.2" text-anchor="middle" fill="#333" color="#333">*</text>
<text x="152.32" y="439.2" font-size="6.35" text-anchor="end" fill="#222" color="#222" transform="rotate(-90 152.32 439.2)">OGD (12 h)</text>
<rect x="160.29" y="369.88" width="4.05" height="67.42" fill="#4474bd"/>
<line x1="162.62" y1="369.88" x2="162.62" y2="373.89" stroke="#35609e" stroke-width="0.7"/>
<line x1="162.62" y1="369.88" x2="162.62" y2="365.88" stroke="#909090" stroke-width="0.9"/>
<line x1="161.72" y1="365.88" x2="163.52" y2="365.88" stroke="#555" stroke-width="0.9"/>
<text x="164.61" y="439.2" font-size="6.35" text-anchor="end" fill="#222" color="#222" transform="rotate(-90 164.61 439.2)">OGD+lps (12 h)</text>
<rect x="172.58" y="373.22" width="4.05" height="64.08" fill="#4474bd"/>
<line x1="174.91" y1="373.22" x2="174.91" y2="375.56" stroke="#35609e" stroke-width="0.7"/>
<line x1="174.91" y1="373.22" x2="174.91" y2="370.88" stroke="#909090" stroke-width="0.9"/>
<line x1="174.01" y1="370.88" x2="175.81" y2="370.88" stroke="#555" stroke-width="0.9"/>
<text x="176.9" y="439.2" font-size="6.35" text-anchor="end" fill="#222" color="#222" transform="rotate(-90 176.9 439.2)">Control (24 h)</text>
<rect x="184.87" y="294.32" width="4.05" height="142.98" fill="#4474bd"/>
<line x1="187.2" y1="294.32" x2="187.2" y2="306.54" stroke="#35609e" stroke-width="0.7"/>
<line x1="187.2" y1="294.32" x2="187.2" y2="282.11" stroke="#909090" stroke-width="0.9"/>
<line x1="186.3" y1="282.11" x2="188.1" y2="282.11" stroke="#555" stroke-width="0.9"/>
<text x="187.2" y="283.11" font-size="5.2" text-anchor="middle" fill="#333" color="#333">*</text>
<text x="189.19" y="439.2" font-size="6.35" text-anchor="end" fill="#222" color="#222" transform="rotate(-90 189.19 439.2)">OGD (24 h)</text>
<rect x="197.16" y="351.19" width="4.05" height="86.11" fill="#4474bd"/>
<line x1="199.49" y1="351.19" x2="199.49" y2="355.87" stroke="#35609e" stroke-width="0.7"/>
<line x1="199.49" y1="351.19" x2="199.49" y2="346.52" stroke="#909090" stroke-width="0.9"/>
<line x1="198.59" y1="346.52" x2="200.39" y2="346.52" stroke="#555" stroke-width="0.9"/>
<text x="201.48" y="439.2" font-size="6.35" text-anchor="end" fill="#222" color="#222" transform="rotate(-90 201.48 439.2)">OGD+lps (24 h)</text>
<rect x="209.45" y="374.56" width="4.05" height="62.75" fill="#4474bd"/>
<line x1="211.78" y1="374.56" x2="211.78" y2="375.22" stroke="#35609e" stroke-width="0.7"/>
<line x1="211.78" y1="374.56" x2="211.78" y2="373.89" stroke="#909090" stroke-width="0.9"/>
<line x1="210.88" y1="373.89" x2="212.68" y2="373.89" stroke="#555" stroke-width="0.9"/>
<text x="213.77" y="439.2" font-size="6.35" text-anchor="end" fill="#222" color="#222" transform="rotate(-90 213.77 439.2)">Control (48 h)</text>
<rect x="221.74" y="314.08" width="4.05" height="123.22" fill="#4474bd"/>
<line x1="224.07" y1="314.08" x2="224.07" y2="327.96" stroke="#35609e" stroke-width="0.7"/>
<line x1="224.07" y1="314.08" x2="224.07" y2="300.2" stroke="#909090" stroke-width="0.9"/>
<line x1="223.17" y1="300.2" x2="224.97" y2="300.2" stroke="#555" stroke-width="0.9"/>
<text x="224.07" y="301.2" font-size="5.2" text-anchor="middle" fill="#333" color="#333">*</text>
<text x="226.06" y="439.2" font-size="6.35" text-anchor="end" fill="#222" color="#222" transform="rotate(-90 226.06 439.2)">OGD (48 h)</text>
<rect x="234.03" y="355.2" width="4.05" height="82.1" fill="#4474bd"/>
<line x1="236.36" y1="355.2" x2="236.36" y2="362.54" stroke="#35609e" stroke-width="0.7"/>
<line x1="236.36" y1="355.2" x2="236.36" y2="347.86" stroke="#909090" stroke-width="0.9"/>
<line x1="235.46" y1="347.86" x2="237.26" y2="347.86" stroke="#555" stroke-width="0.9"/>
<text x="238.35" y="439.2" font-size="6.35" text-anchor="end" fill="#222" color="#222" transform="rotate(-90 238.35 439.2)">OGD+lps (48 h)</text>
<path d="M112.16 321.1 V319.5 H126.45 V321.1" fill="none" stroke="#3a3a3a" stroke-width="0.9"/>
<text x="119.3" y="320.4" font-size="5.2" text-anchor="middle" fill="#333" color="#333">*</text>
<path d="M149.03 310.9 V309.3 H163.32 V310.9" fill="none" stroke="#3a3a3a" stroke-width="0.9"/>
<text x="156.18" y="310.2" font-size="5.2" text-anchor="middle" fill="#333" color="#333">*</text>
<path d="M172.2 273 V271.4 H200.7 V273" fill="none" stroke="#3a3a3a" stroke-width="0.9"/>
<text x="186.45" y="272.3" font-size="5.2" text-anchor="middle" fill="#333" color="#333">*</text>
<path d="M186.8 276.9 V275.3 H200.7 V276.9" fill="none" stroke="#3a3a3a" stroke-width="0.9"/>
<path d="M192.45 274.3 L193.75 272.5 L195.05 274.3" fill="none" stroke="#444" stroke-width="0.6"/>
<path d="M212.2 288.6 V287 H235.5 V288.6" fill="none" stroke="#3a3a3a" stroke-width="0.9"/>
<text x="223.85" y="287.9" font-size="5.2" text-anchor="middle" fill="#333" color="#333">*</text>
<path d="M222.9 293.1 V291.5 H235.5 V293.1" fill="none" stroke="#3a3a3a" stroke-width="0.9"/>
<path d="M227.9 290.5 L229.2 288.7 L230.5 290.5" fill="none" stroke="#444" stroke-width="0.6"/>
<text font-size="9" text-anchor="middle" fill="#111" color="#111" transform="translate(144.6 266) scale(1 1.08)">iNOS</text>
<text x="34.8" y="268.3" font-size="10.5" text-anchor="start" font-weight="bold" fill="#000" color="#000">D</text>
<text x="150.8" y="494" font-size="8.3" text-anchor="middle" fill="#222" color="#222">Groups</text>
<text x="40.6" y="354.5" font-size="8.2" text-anchor="middle" fill="#222" color="#222" transform="rotate(-90 40.6 354.5)">Relative protein expression</text>
<line x1="279.85" y1="436.4" x2="464.35" y2="436.4" stroke="#d9d9d9" stroke-width="0.8"/>
<text x="278.95" y="438.78" font-size="6.6" text-anchor="end" fill="#222" color="#222">0.0</text>
<line x1="279.85" y1="403.4" x2="464.35" y2="403.4" stroke="#ebebeb" stroke-width="0.8"/>
<text x="278.95" y="405.78" font-size="6.6" text-anchor="end" fill="#222" color="#222">0.5</text>
<line x1="279.85" y1="370.4" x2="464.35" y2="370.4" stroke="#ebebeb" stroke-width="0.8"/>
<text x="278.95" y="372.78" font-size="6.6" text-anchor="end" fill="#222" color="#222">1.0</text>
<line x1="279.85" y1="337.4" x2="464.35" y2="337.4" stroke="#ebebeb" stroke-width="0.8"/>
<text x="278.95" y="339.78" font-size="6.6" text-anchor="end" fill="#222" color="#222">1.5</text>
<line x1="279.85" y1="304.4" x2="464.35" y2="304.4" stroke="#ebebeb" stroke-width="0.8"/>
<text x="278.95" y="306.78" font-size="6.6" text-anchor="end" fill="#222" color="#222">2.0</text>
<line x1="279.85" y1="271.4" x2="464.35" y2="271.4" stroke="#ebebeb" stroke-width="0.8"/>
<text x="278.95" y="273.78" font-size="6.6" text-anchor="end" fill="#222" color="#222">2.5</text>
<rect x="284.05" y="378.98" width="3.9" height="57.42" fill="#4474bd"/>
<line x1="286.3" y1="378.98" x2="286.3" y2="384.26" stroke="#35609e" stroke-width="0.7"/>
<line x1="286.3" y1="378.98" x2="286.3" y2="373.7" stroke="#909090" stroke-width="0.9"/>
<line x1="285.4" y1="373.7" x2="287.2" y2="373.7" stroke="#555" stroke-width="0.9"/>
<text x="288.32" y="438.8" font-size="6.45" text-anchor="end" fill="#222" color="#222" transform="rotate(-90 288.32 438.8)">Control (0 h)</text>
<rect x="296.35" y="369.08" width="3.9" height="67.32" fill="#4474bd"/>
<line x1="298.6" y1="369.08" x2="298.6" y2="371.72" stroke="#35609e" stroke-width="0.7"/>
<line x1="298.6" y1="369.08" x2="298.6" y2="366.44" stroke="#909090" stroke-width="0.9"/>
<line x1="297.7" y1="366.44" x2="299.5" y2="366.44" stroke="#555" stroke-width="0.9"/>
<text x="300.62" y="438.8" font-size="6.45" text-anchor="end" fill="#222" color="#222" transform="rotate(-90 300.62 438.8)">OGD (0 h)</text>
<rect x="308.65" y="371.72" width="3.9" height="64.68" fill="#4474bd"/>
<line x1="310.9" y1="371.72" x2="310.9" y2="379.64" stroke="#35609e" stroke-width="0.7"/>
<line x1="310.9" y1="371.72" x2="310.9" y2="363.8" stroke="#909090" stroke-width="0.9"/>
<line x1="310" y1="363.8" x2="311.8" y2="363.8" stroke="#555" stroke-width="0.9"/>
<text x="312.92" y="438.8" font-size="6.45" text-anchor="end" fill="#222" color="#222" transform="rotate(-90 312.92 438.8)">OGD+lps (0 h)</text>
<rect x="320.95" y="381.29" width="3.9" height="55.11" fill="#4474bd"/>
<line x1="323.2" y1="381.29" x2="323.2" y2="384.26" stroke="#35609e" stroke-width="0.7"/>
<line x1="323.2" y1="381.29" x2="323.2" y2="378.32" stroke="#909090" stroke-width="0.9"/>
<line x1="322.3" y1="378.32" x2="324.1" y2="378.32" stroke="#555" stroke-width="0.9"/>
<text x="325.22" y="438.8" font-size="6.45" text-anchor="end" fill="#222" color="#222" transform="rotate(-90 325.22 438.8)">Control (6 h)</text>
<rect x="333.25" y="372.38" width="3.9" height="64.02" fill="#4474bd"/>
<line x1="335.5" y1="372.38" x2="335.5" y2="377.66" stroke="#35609e" stroke-width="0.7"/>
<line x1="335.5" y1="372.38" x2="335.5" y2="367.1" stroke="#909090" stroke-width="0.9"/>
<line x1="334.6" y1="367.1" x2="336.4" y2="367.1" stroke="#555" stroke-width="0.9"/>
<text x="335.5" y="368.1" font-size="5.2" text-anchor="middle" fill="#333" color="#333">*</text>
<text x="337.52" y="438.8" font-size="6.45" text-anchor="end" fill="#222" color="#222" transform="rotate(-90 337.52 438.8)">OGD (6 h)</text>
<rect x="345.55" y="377.33" width="3.9" height="59.07" fill="#4474bd"/>
<line x1="347.8" y1="377.33" x2="347.8" y2="379.64" stroke="#35609e" stroke-width="0.7"/>
<line x1="347.8" y1="377.33" x2="347.8" y2="375.02" stroke="#909090" stroke-width="0.9"/>
<line x1="346.9" y1="375.02" x2="348.7" y2="375.02" stroke="#555" stroke-width="0.9"/>
<text x="349.82" y="438.8" font-size="6.45" text-anchor="end" fill="#222" color="#222" transform="rotate(-90 349.82 438.8)">OGD+lps (6 h)</text>
<rect x="357.85" y="378.32" width="3.9" height="58.08" fill="#4474bd"/>
<line x1="360.1" y1="378.32" x2="360.1" y2="384.26" stroke="#35609e" stroke-width="0.7"/>
<line x1="360.1" y1="378.32" x2="360.1" y2="372.38" stroke="#909090" stroke-width="0.9"/>
<line x1="359.2" y1="372.38" x2="361" y2="372.38" stroke="#555" stroke-width="0.9"/>
<text x="362.12" y="438.8" font-size="6.45" text-anchor="end" fill="#222" color="#222" transform="rotate(-90 362.12 438.8)">Control (12 h)</text>
<rect x="370.15" y="317.6" width="3.9" height="118.8" fill="#4474bd"/>
<line x1="372.4" y1="317.6" x2="372.4" y2="324.2" stroke="#35609e" stroke-width="0.7"/>
<line x1="372.4" y1="317.6" x2="372.4" y2="311" stroke="#909090" stroke-width="0.9"/>
<line x1="371.5" y1="311" x2="373.3" y2="311" stroke="#555" stroke-width="0.9"/>
<text x="372.4" y="312" font-size="5.2" text-anchor="middle" fill="#333" color="#333">*</text>
<text x="374.42" y="438.8" font-size="6.45" text-anchor="end" fill="#222" color="#222" transform="rotate(-90 374.42 438.8)">OGD (12 h)</text>
<rect x="382.45" y="371.39" width="3.9" height="65.01" fill="#4474bd"/>
<line x1="384.7" y1="371.39" x2="384.7" y2="377" stroke="#35609e" stroke-width="0.7"/>
<line x1="384.7" y1="371.39" x2="384.7" y2="365.78" stroke="#909090" stroke-width="0.9"/>
<line x1="383.8" y1="365.78" x2="385.6" y2="365.78" stroke="#555" stroke-width="0.9"/>
<text x="386.72" y="438.8" font-size="6.45" text-anchor="end" fill="#222" color="#222" transform="rotate(-90 386.72 438.8)">OGD+lps (12 h)</text>
<rect x="394.75" y="374.69" width="3.9" height="61.71" fill="#4474bd"/>
<line x1="397" y1="374.69" x2="397" y2="378.65" stroke="#35609e" stroke-width="0.7"/>
<line x1="397" y1="374.69" x2="397" y2="370.73" stroke="#909090" stroke-width="0.9"/>
<line x1="396.1" y1="370.73" x2="397.9" y2="370.73" stroke="#555" stroke-width="0.9"/>
<text x="399.02" y="438.8" font-size="6.45" text-anchor="end" fill="#222" color="#222" transform="rotate(-90 399.02 438.8)">Control (24 h)</text>
<rect x="407.05" y="295.49" width="3.9" height="140.91" fill="#4474bd"/>
<line x1="409.3" y1="295.49" x2="409.3" y2="303.08" stroke="#35609e" stroke-width="0.7"/>
<line x1="409.3" y1="295.49" x2="409.3" y2="287.9" stroke="#909090" stroke-width="0.9"/>
<line x1="408.4" y1="287.9" x2="410.2" y2="287.9" stroke="#555" stroke-width="0.9"/>
<text x="409.3" y="288.9" font-size="5.2" text-anchor="middle" fill="#333" color="#333">*</text>
<text x="411.32" y="438.8" font-size="6.45" text-anchor="end" fill="#222" color="#222" transform="rotate(-90 411.32 438.8)">OGD (24 h)</text>
<rect x="419.35" y="350.6" width="3.9" height="85.8" fill="#4474bd"/>
<line x1="421.6" y1="350.6" x2="421.6" y2="357.2" stroke="#35609e" stroke-width="0.7"/>
<line x1="421.6" y1="350.6" x2="421.6" y2="344" stroke="#909090" stroke-width="0.9"/>
<line x1="420.7" y1="344" x2="422.5" y2="344" stroke="#555" stroke-width="0.9"/>
<text x="423.62" y="438.8" font-size="6.45" text-anchor="end" fill="#222" color="#222" transform="rotate(-90 423.62 438.8)">OGD+lps (24 h)</text>
<rect x="431.65" y="377.33" width="3.9" height="59.07" fill="#4474bd"/>
<line x1="433.9" y1="377.33" x2="433.9" y2="381.62" stroke="#35609e" stroke-width="0.7"/>
<line x1="433.9" y1="377.33" x2="433.9" y2="373.04" stroke="#909090" stroke-width="0.9"/>
<line x1="433" y1="373.04" x2="434.8" y2="373.04" stroke="#555" stroke-width="0.9"/>
<text x="435.92" y="438.8" font-size="6.45" text-anchor="end" fill="#222" color="#222" transform="rotate(-90 435.92 438.8)">Control (48 h)</text>
<rect x="443.95" y="325.85" width="3.9" height="110.55" fill="#4474bd"/>
<line x1="446.2" y1="325.85" x2="446.2" y2="336.08" stroke="#35609e" stroke-width="0.7"/>
<line x1="446.2" y1="325.85" x2="446.2" y2="315.62" stroke="#909090" stroke-width="0.9"/>
<line x1="445.3" y1="315.62" x2="447.1" y2="315.62" stroke="#555" stroke-width="0.9"/>
<text x="446.2" y="316.62" font-size="5.2" text-anchor="middle" fill="#333" color="#333">*</text>
<text x="448.22" y="438.8" font-size="6.45" text-anchor="end" fill="#222" color="#222" transform="rotate(-90 448.22 438.8)">OGD (48 h)</text>
<rect x="456.25" y="353.57" width="3.9" height="82.83" fill="#4474bd"/>
<line x1="458.5" y1="353.57" x2="458.5" y2="358.52" stroke="#35609e" stroke-width="0.7"/>
<line x1="458.5" y1="353.57" x2="458.5" y2="348.62" stroke="#909090" stroke-width="0.9"/>
<line x1="457.6" y1="348.62" x2="459.4" y2="348.62" stroke="#555" stroke-width="0.9"/>
<text x="460.52" y="438.8" font-size="6.45" text-anchor="end" fill="#222" color="#222" transform="rotate(-90 460.52 438.8)">OGD+lps (48 h)</text>
<path d="M335.9 360.1 V358.5 H350.3 V360.1" fill="none" stroke="#3a3a3a" stroke-width="0.9"/>
<path d="M341.8 357.5 L343.1 355.7 L344.4 357.5" fill="none" stroke="#444" stroke-width="0.6"/>
<path d="M372.8 302.9 V301.3 H387.2 V302.9" fill="none" stroke="#3a3a3a" stroke-width="0.9"/>
<path d="M378.7 300.3 L380 298.5 L381.3 300.3" fill="none" stroke="#444" stroke-width="0.6"/>
<path d="M395.2 276.9 V275.3 H424.5 V276.9" fill="none" stroke="#3a3a3a" stroke-width="0.9"/>
<text x="409.85" y="276.2" font-size="5.2" text-anchor="middle" fill="#333" color="#333">*</text>
<path d="M408.2 283.3 V281.7 H424.5 V283.3" fill="none" stroke="#3a3a3a" stroke-width="0.9"/>
<path d="M415.05 280.7 L416.35 278.9 L417.65 280.7" fill="none" stroke="#444" stroke-width="0.6"/>
<path d="M435.3 300.4 V298.8 H459.8 V300.4" fill="none" stroke="#3a3a3a" stroke-width="0.9"/>
<text x="447.55" y="299.7" font-size="5.2" text-anchor="middle" fill="#333" color="#333">*</text>
<path d="M444.4 308.2 V306.6 H459.8 V308.2" fill="none" stroke="#3a3a3a" stroke-width="0.9"/>
<path d="M450.8 305.6 L452.1 303.8 L453.4 305.6" fill="none" stroke="#444" stroke-width="0.6"/>
<text font-size="9" text-anchor="middle" fill="#111" color="#111" transform="translate(365 266.3) scale(1 1.08)">TNF-α</text>
<text x="256" y="268.3" font-size="10.5" text-anchor="start" font-weight="bold" fill="#000" color="#000">E</text>
<text x="372.3" y="495" font-size="8.3" text-anchor="middle" fill="#222" color="#222">Groups</text>
<text x="266" y="354.3" font-size="8.4" text-anchor="middle" fill="#222" color="#222" transform="rotate(-90 266 354.3)">Relative protein expression</text>
<line x1="502.12" y1="435.9" x2="687.38" y2="435.9" stroke="#d9d9d9" stroke-width="0.8"/>
<text x="500.52" y="438.13" font-size="6.2" text-anchor="end" fill="#222" color="#222">0.0</text>
<line x1="502.12" y1="417.5" x2="687.38" y2="417.5" stroke="#ebebeb" stroke-width="0.8"/>
<text x="500.52" y="419.73" font-size="6.2" text-anchor="end" fill="#222" color="#222">0.2</text>
<line x1="502.12" y1="399.1" x2="687.38" y2="399.1" stroke="#ebebeb" stroke-width="0.8"/>
<text x="500.52" y="401.33" font-size="6.2" text-anchor="end" fill="#222" color="#222">0.4</text>
<line x1="502.12" y1="380.7" x2="687.38" y2="380.7" stroke="#ebebeb" stroke-width="0.8"/>
<text x="500.52" y="382.93" font-size="6.2" text-anchor="end" fill="#222" color="#222">0.6</text>
<line x1="502.12" y1="362.3" x2="687.38" y2="362.3" stroke="#ebebeb" stroke-width="0.8"/>
<text x="500.52" y="364.53" font-size="6.2" text-anchor="end" fill="#222" color="#222">0.8</text>
<line x1="502.12" y1="343.9" x2="687.38" y2="343.9" stroke="#ebebeb" stroke-width="0.8"/>
<text x="500.52" y="346.13" font-size="6.2" text-anchor="end" fill="#222" color="#222">1.0</text>
<line x1="502.12" y1="325.5" x2="687.38" y2="325.5" stroke="#ebebeb" stroke-width="0.8"/>
<text x="500.52" y="327.73" font-size="6.2" text-anchor="end" fill="#222" color="#222">1.2</text>
<line x1="502.12" y1="307.1" x2="687.38" y2="307.1" stroke="#ebebeb" stroke-width="0.8"/>
<text x="500.52" y="309.33" font-size="6.2" text-anchor="end" fill="#222" color="#222">1.4</text>
<line x1="502.12" y1="288.7" x2="687.38" y2="288.7" stroke="#ebebeb" stroke-width="0.8"/>
<text x="500.52" y="290.93" font-size="6.2" text-anchor="end" fill="#222" color="#222">1.6</text>
<line x1="502.12" y1="270.3" x2="687.38" y2="270.3" stroke="#ebebeb" stroke-width="0.8"/>
<text x="500.52" y="272.53" font-size="6.2" text-anchor="end" fill="#222" color="#222">1.8</text>
<rect x="506.2" y="357.52" width="4.2" height="78.38" fill="#4474bd"/>
<line x1="508.6" y1="357.52" x2="508.6" y2="365.98" stroke="#35609e" stroke-width="0.7"/>
<line x1="508.6" y1="357.52" x2="508.6" y2="349.05" stroke="#909090" stroke-width="0.9"/>
<line x1="507.7" y1="349.05" x2="509.5" y2="349.05" stroke="#555" stroke-width="0.9"/>
<text x="510.6" y="437.6" font-size="6.4" text-anchor="end" fill="#222" color="#222" transform="rotate(-90 510.6 437.6)">Control (0 h)</text>
<rect x="518.55" y="355.49" width="4.2" height="80.41" fill="#4474bd"/>
<line x1="520.95" y1="355.49" x2="520.95" y2="361.93" stroke="#35609e" stroke-width="0.7"/>
<line x1="520.95" y1="355.49" x2="520.95" y2="349.05" stroke="#909090" stroke-width="0.9"/>
<line x1="520.05" y1="349.05" x2="521.85" y2="349.05" stroke="#555" stroke-width="0.9"/>
<text x="522.95" y="437.6" font-size="6.4" text-anchor="end" fill="#222" color="#222" transform="rotate(-90 522.95 437.6)">OGD (0 h)</text>
<rect x="530.9" y="356.5" width="4.2" height="79.4" fill="#4474bd"/>
<line x1="533.3" y1="356.5" x2="533.3" y2="369.02" stroke="#35609e" stroke-width="0.7"/>
<line x1="533.3" y1="356.5" x2="533.3" y2="343.99" stroke="#909090" stroke-width="0.9"/>
<line x1="532.4" y1="343.99" x2="534.2" y2="343.99" stroke="#555" stroke-width="0.9"/>
<text x="535.3" y="437.6" font-size="6.4" text-anchor="end" fill="#222" color="#222" transform="rotate(-90 535.3 437.6)">OGD+lps (0 h)</text>
<rect x="543.25" y="360.83" width="4.2" height="75.07" fill="#4474bd"/>
<line x1="545.65" y1="360.83" x2="545.65" y2="365.15" stroke="#35609e" stroke-width="0.7"/>
<line x1="545.65" y1="360.83" x2="545.65" y2="356.5" stroke="#909090" stroke-width="0.9"/>
<line x1="544.75" y1="356.5" x2="546.55" y2="356.5" stroke="#555" stroke-width="0.9"/>
<text x="547.65" y="437.6" font-size="6.4" text-anchor="end" fill="#222" color="#222" transform="rotate(-90 547.65 437.6)">Control (6 h)</text>
<rect x="555.6" y="355.77" width="4.2" height="80.13" fill="#4474bd"/>
<line x1="558" y1="355.77" x2="558" y2="365.89" stroke="#35609e" stroke-width="0.7"/>
<line x1="558" y1="355.77" x2="558" y2="345.65" stroke="#909090" stroke-width="0.9"/>
<line x1="557.1" y1="345.65" x2="558.9" y2="345.65" stroke="#555" stroke-width="0.9"/>
<text x="558" y="346.65" font-size="5.2" text-anchor="middle" fill="#333" color="#333">*</text>
<text x="560" y="437.6" font-size="6.4" text-anchor="end" fill="#222" color="#222" transform="rotate(-90 560 437.6)">OGD (6 h)</text>
<rect x="567.95" y="360.83" width="4.2" height="75.07" fill="#4474bd"/>
<line x1="570.35" y1="360.83" x2="570.35" y2="364.88" stroke="#35609e" stroke-width="0.7"/>
<line x1="570.35" y1="360.83" x2="570.35" y2="356.78" stroke="#909090" stroke-width="0.9"/>
<line x1="569.45" y1="356.78" x2="571.25" y2="356.78" stroke="#555" stroke-width="0.9"/>
<text x="572.35" y="437.6" font-size="6.4" text-anchor="end" fill="#222" color="#222" transform="rotate(-90 572.35 437.6)">OGD+lps (6 h)</text>
<rect x="580.3" y="355.77" width="4.2" height="80.13" fill="#4474bd"/>
<line x1="582.7" y1="355.77" x2="582.7" y2="358.07" stroke="#35609e" stroke-width="0.7"/>
<line x1="582.7" y1="355.77" x2="582.7" y2="353.47" stroke="#909090" stroke-width="0.9"/>
<line x1="581.8" y1="353.47" x2="583.6" y2="353.47" stroke="#555" stroke-width="0.9"/>
<text x="584.7" y="437.6" font-size="6.4" text-anchor="end" fill="#222" color="#222" transform="rotate(-90 584.7 437.6)">Control (12 h)</text>
<rect x="592.65" y="338.56" width="4.2" height="97.34" fill="#4474bd"/>
<line x1="595.05" y1="338.56" x2="595.05" y2="346.02" stroke="#35609e" stroke-width="0.7"/>
<line x1="595.05" y1="338.56" x2="595.05" y2="331.11" stroke="#909090" stroke-width="0.9"/>
<line x1="594.15" y1="331.11" x2="595.95" y2="331.11" stroke="#555" stroke-width="0.9"/>
<text x="595.05" y="332.11" font-size="5.2" text-anchor="middle" fill="#333" color="#333">*</text>
<text x="597.05" y="437.6" font-size="6.4" text-anchor="end" fill="#222" color="#222" transform="rotate(-90 597.05 437.6)">OGD (12 h)</text>
<rect x="605" y="352.09" width="4.2" height="83.81" fill="#4474bd"/>
<line x1="607.4" y1="352.09" x2="607.4" y2="355.12" stroke="#35609e" stroke-width="0.7"/>
<line x1="607.4" y1="352.09" x2="607.4" y2="349.05" stroke="#909090" stroke-width="0.9"/>
<line x1="606.5" y1="349.05" x2="608.3" y2="349.05" stroke="#555" stroke-width="0.9"/>
<text x="609.4" y="437.6" font-size="6.4" text-anchor="end" fill="#222" color="#222" transform="rotate(-90 609.4 437.6)">OGD+lps (12 h)</text>
<rect x="617.35" y="350.06" width="4.2" height="85.84" fill="#4474bd"/>
<line x1="619.75" y1="350.06" x2="619.75" y2="353.84" stroke="#35609e" stroke-width="0.7"/>
<line x1="619.75" y1="350.06" x2="619.75" y2="346.29" stroke="#909090" stroke-width="0.9"/>
<line x1="618.85" y1="346.29" x2="620.65" y2="346.29" stroke="#555" stroke-width="0.9"/>
<text x="621.75" y="437.6" font-size="6.4" text-anchor="end" fill="#222" color="#222" transform="rotate(-90 621.75 437.6)">Control (24 h)</text>
<rect x="629.7" y="293.94" width="4.2" height="141.96" fill="#4474bd"/>
<line x1="632.1" y1="293.94" x2="632.1" y2="300.02" stroke="#35609e" stroke-width="0.7"/>
<line x1="632.1" y1="293.94" x2="632.1" y2="287.87" stroke="#909090" stroke-width="0.9"/>
<line x1="631.2" y1="287.87" x2="633" y2="287.87" stroke="#555" stroke-width="0.9"/>
<text x="632.1" y="288.87" font-size="5.2" text-anchor="middle" fill="#333" color="#333">*</text>
<text x="634.1" y="437.6" font-size="6.4" text-anchor="end" fill="#222" color="#222" transform="rotate(-90 634.1 437.6)">OGD (24 h)</text>
<rect x="642.05" y="318.32" width="4.2" height="117.58" fill="#4474bd"/>
<line x1="644.45" y1="318.32" x2="644.45" y2="331.57" stroke="#35609e" stroke-width="0.7"/>
<line x1="644.45" y1="318.32" x2="644.45" y2="305.08" stroke="#909090" stroke-width="0.9"/>
<line x1="643.55" y1="305.08" x2="645.35" y2="305.08" stroke="#555" stroke-width="0.9"/>
<text x="646.45" y="437.6" font-size="6.4" text-anchor="end" fill="#222" color="#222" transform="rotate(-90 646.45 437.6)">OGD+lps (24 h)</text>
<rect x="654.4" y="354.11" width="4.2" height="81.79" fill="#4474bd"/>
<line x1="656.8" y1="354.11" x2="656.8" y2="359.54" stroke="#35609e" stroke-width="0.7"/>
<line x1="656.8" y1="354.11" x2="656.8" y2="348.68" stroke="#909090" stroke-width="0.9"/>
<line x1="655.9" y1="348.68" x2="657.7" y2="348.68" stroke="#555" stroke-width="0.9"/>
<text x="658.8" y="437.6" font-size="6.4" text-anchor="end" fill="#222" color="#222" transform="rotate(-90 658.8 437.6)">Control (48 h)</text>
<rect x="666.75" y="316.94" width="4.2" height="118.96" fill="#4474bd"/>
<line x1="669.15" y1="316.94" x2="669.15" y2="331.48" stroke="#35609e" stroke-width="0.7"/>
<line x1="669.15" y1="316.94" x2="669.15" y2="302.41" stroke="#909090" stroke-width="0.9"/>
<line x1="668.25" y1="302.41" x2="670.05" y2="302.41" stroke="#555" stroke-width="0.9"/>
<text x="669.15" y="303.41" font-size="5.2" text-anchor="middle" fill="#333" color="#333">*</text>
<text x="671.15" y="437.6" font-size="6.4" text-anchor="end" fill="#222" color="#222" transform="rotate(-90 671.15 437.6)">OGD (48 h)</text>
<rect x="679.1" y="331.11" width="4.2" height="104.79" fill="#4474bd"/>
<line x1="681.5" y1="331.11" x2="681.5" y2="340.22" stroke="#35609e" stroke-width="0.7"/>
<line x1="681.5" y1="331.11" x2="681.5" y2="322" stroke="#909090" stroke-width="0.9"/>
<line x1="680.6" y1="322" x2="682.4" y2="322" stroke="#555" stroke-width="0.9"/>
<text x="683.5" y="437.6" font-size="6.4" text-anchor="end" fill="#222" color="#222" transform="rotate(-90 683.5 437.6)">OGD+lps (48 h)</text>
<path d="M556.7 340.6 V339 H571.05 V340.6" fill="none" stroke="#3a3a3a" stroke-width="0.9"/>
<path d="M562.58 338 L563.88 336.2 L565.17 338" fill="none" stroke="#444" stroke-width="0.6"/>
<path d="M593.75 328.9 V327.3 H608.1 V328.9" fill="none" stroke="#3a3a3a" stroke-width="0.9"/>
<path d="M599.62 326.3 L600.92 324.5 L602.22 326.3" fill="none" stroke="#444" stroke-width="0.6"/>
<path d="M619.1 275.9 V274.3 H647.5 V275.9" fill="none" stroke="#3a3a3a" stroke-width="0.9"/>
<text x="633.3" y="275.2" font-size="5.2" text-anchor="middle" fill="#333" color="#333">*</text>
<path d="M631 281.2 V279.6 H646.8 V281.2" fill="none" stroke="#3a3a3a" stroke-width="0.9"/>
<path d="M637.6 278.6 L638.9 276.8 L640.2 278.6" fill="none" stroke="#444" stroke-width="0.6"/>
<path d="M660.2 288.1 V286.5 H681.8 V288.1" fill="none" stroke="#3a3a3a" stroke-width="0.9"/>
<text x="671" y="287.4" font-size="5.2" text-anchor="middle" fill="#333" color="#333">*</text>
<path d="M668.4 297.1 V295.5 H683 V297.1" fill="none" stroke="#3a3a3a" stroke-width="0.9"/>
<path d="M674.4 294.5 L675.7 292.7 L677 294.5" fill="none" stroke="#444" stroke-width="0.6"/>
<text font-size="9" text-anchor="middle" fill="#111" color="#111" transform="translate(588.5 265.7) scale(1 1.08)">Notch</text>
<text x="479.3" y="267" font-size="10.5" text-anchor="start" font-weight="bold" fill="#000" color="#000">F</text>
<text x="597.7" y="494" font-size="8.3" text-anchor="middle" fill="#222" color="#222">Groups</text>
<text x="486" y="351.6" font-size="8.3" text-anchor="middle" fill="#222" color="#222" transform="rotate(-90 486 351.6)">Relative mRNA expression</text>
<line x1="56.8" y1="692.4" x2="242.8" y2="692.4" stroke="#d9d9d9" stroke-width="0.8"/>
<text x="55.2" y="694.34" font-size="5.4" text-anchor="end" fill="#222" color="#222">0.0</text>
<line x1="56.8" y1="658.8" x2="242.8" y2="658.8" stroke="#ebebeb" stroke-width="0.8"/>
<text x="55.2" y="660.74" font-size="5.4" text-anchor="end" fill="#222" color="#222">0.5</text>
<line x1="56.8" y1="625.2" x2="242.8" y2="625.2" stroke="#ebebeb" stroke-width="0.8"/>
<text x="55.2" y="627.14" font-size="5.4" text-anchor="end" fill="#222" color="#222">1.0</text>
<line x1="56.8" y1="591.6" x2="242.8" y2="591.6" stroke="#ebebeb" stroke-width="0.8"/>
<text x="55.2" y="593.54" font-size="5.4" text-anchor="end" fill="#222" color="#222">1.5</text>
<line x1="56.8" y1="558" x2="242.8" y2="558" stroke="#ebebeb" stroke-width="0.8"/>
<text x="55.2" y="559.94" font-size="5.4" text-anchor="end" fill="#222" color="#222">2.0</text>
<line x1="56.8" y1="524.4" x2="242.8" y2="524.4" stroke="#ebebeb" stroke-width="0.8"/>
<text x="55.2" y="526.34" font-size="5.4" text-anchor="end" fill="#222" color="#222">2.5</text>
<rect x="61.1" y="594.15" width="3.8" height="98.25" fill="#4474bd"/>
<line x1="63.3" y1="594.15" x2="63.3" y2="596.3" stroke="#35609e" stroke-width="0.7"/>
<line x1="63.3" y1="594.15" x2="63.3" y2="592" stroke="#909090" stroke-width="0.9"/>
<line x1="62.4" y1="592" x2="64.2" y2="592" stroke="#555" stroke-width="0.9"/>
<text x="64.94" y="694.7" font-size="5.4" text-anchor="end" fill="#222" color="#222" transform="rotate(-90 64.94 694.7)">Control (0 h)</text>
<rect x="73.5" y="567.34" width="3.8" height="125.06" fill="#4474bd"/>
<line x1="75.7" y1="567.34" x2="75.7" y2="574.33" stroke="#35609e" stroke-width="0.7"/>
<line x1="75.7" y1="567.34" x2="75.7" y2="560.35" stroke="#909090" stroke-width="0.9"/>
<line x1="74.8" y1="560.35" x2="76.6" y2="560.35" stroke="#555" stroke-width="0.9"/>
<text x="77.34" y="694.7" font-size="5.4" text-anchor="end" fill="#222" color="#222" transform="rotate(-90 77.34 694.7)">OGD (0 h)</text>
<rect x="85.9" y="573.39" width="3.8" height="119.01" fill="#4474bd"/>
<line x1="88.1" y1="573.39" x2="88.1" y2="597.04" stroke="#35609e" stroke-width="0.7"/>
<line x1="88.1" y1="573.39" x2="88.1" y2="549.73" stroke="#909090" stroke-width="0.9"/>
<line x1="87.2" y1="549.73" x2="89" y2="549.73" stroke="#555" stroke-width="0.9"/>
<text x="89.74" y="694.7" font-size="5.4" text-anchor="end" fill="#222" color="#222" transform="rotate(-90 89.74 694.7)">OGD+lps (0 h)</text>
<rect x="98.3" y="592" width="3.8" height="100.4" fill="#4474bd"/>
<line x1="100.5" y1="592" x2="100.5" y2="600.07" stroke="#35609e" stroke-width="0.7"/>
<line x1="100.5" y1="592" x2="100.5" y2="583.94" stroke="#909090" stroke-width="0.9"/>
<line x1="99.6" y1="583.94" x2="101.4" y2="583.94" stroke="#555" stroke-width="0.9"/>
<text x="102.14" y="694.7" font-size="5.4" text-anchor="end" fill="#222" color="#222" transform="rotate(-90 102.14 694.7)">Control (6 h)</text>
<rect x="110.7" y="569.16" width="3.8" height="123.24" fill="#4474bd"/>
<line x1="112.9" y1="569.16" x2="112.9" y2="576.21" stroke="#35609e" stroke-width="0.7"/>
<line x1="112.9" y1="569.16" x2="112.9" y2="562.1" stroke="#909090" stroke-width="0.9"/>
<line x1="112" y1="562.1" x2="113.8" y2="562.1" stroke="#555" stroke-width="0.9"/>
<text x="112.9" y="563.1" font-size="5.2" text-anchor="middle" fill="#333" color="#333">*</text>
<text x="114.54" y="694.7" font-size="5.4" text-anchor="end" fill="#222" color="#222" transform="rotate(-90 114.54 694.7)">OGD (6 h)</text>
<rect x="123.1" y="584.28" width="3.8" height="108.12" fill="#4474bd"/>
<line x1="125.3" y1="584.28" x2="125.3" y2="591.33" stroke="#35609e" stroke-width="0.7"/>
<line x1="125.3" y1="584.28" x2="125.3" y2="577.22" stroke="#909090" stroke-width="0.9"/>
<line x1="124.4" y1="577.22" x2="126.2" y2="577.22" stroke="#555" stroke-width="0.9"/>
<text x="126.94" y="694.7" font-size="5.4" text-anchor="end" fill="#222" color="#222" transform="rotate(-90 126.94 694.7)">OGD+lps (6 h)</text>
<rect x="135.5" y="591.33" width="3.8" height="101.07" fill="#4474bd"/>
<line x1="137.7" y1="591.33" x2="137.7" y2="596.64" stroke="#35609e" stroke-width="0.7"/>
<line x1="137.7" y1="591.33" x2="137.7" y2="586.02" stroke="#909090" stroke-width="0.9"/>
<line x1="136.8" y1="586.02" x2="138.6" y2="586.02" stroke="#555" stroke-width="0.9"/>
<text x="139.34" y="694.7" font-size="5.4" text-anchor="end" fill="#222" color="#222" transform="rotate(-90 139.34 694.7)">Control (12 h)</text>
<rect x="147.9" y="555.04" width="3.8" height="137.36" fill="#4474bd"/>
<line x1="150.1" y1="555.04" x2="150.1" y2="560.35" stroke="#35609e" stroke-width="0.7"/>
<line x1="150.1" y1="555.04" x2="150.1" y2="549.73" stroke="#909090" stroke-width="0.9"/>
<line x1="149.2" y1="549.73" x2="151" y2="549.73" stroke="#555" stroke-width="0.9"/>
<text x="150.1" y="550.73" font-size="5.2" text-anchor="middle" fill="#333" color="#333">*</text>
<text x="151.74" y="694.7" font-size="5.4" text-anchor="end" fill="#222" color="#222" transform="rotate(-90 151.74 694.7)">OGD (12 h)</text>
<rect x="160.3" y="583.6" width="3.8" height="108.8" fill="#4474bd"/>
<line x1="162.5" y1="583.6" x2="162.5" y2="584.68" stroke="#35609e" stroke-width="0.7"/>
<line x1="162.5" y1="583.6" x2="162.5" y2="582.53" stroke="#909090" stroke-width="0.9"/>
<line x1="161.6" y1="582.53" x2="163.4" y2="582.53" stroke="#555" stroke-width="0.9"/>
<text x="164.14" y="694.7" font-size="5.4" text-anchor="end" fill="#222" color="#222" transform="rotate(-90 164.14 694.7)">OGD+lps (12 h)</text>
<rect x="172.7" y="584.95" width="3.8" height="107.45" fill="#4474bd"/>
<line x1="174.9" y1="584.95" x2="174.9" y2="588.44" stroke="#35609e" stroke-width="0.7"/>
<line x1="174.9" y1="584.95" x2="174.9" y2="581.45" stroke="#909090" stroke-width="0.9"/>
<line x1="174" y1="581.45" x2="175.8" y2="581.45" stroke="#555" stroke-width="0.9"/>
<text x="176.54" y="694.7" font-size="5.4" text-anchor="end" fill="#222" color="#222" transform="rotate(-90 176.54 694.7)">Control (24 h)</text>
<rect x="185.1" y="552.56" width="3.8" height="139.84" fill="#4474bd"/>
<line x1="187.3" y1="552.56" x2="187.3" y2="571.17" stroke="#35609e" stroke-width="0.7"/>
<line x1="187.3" y1="552.56" x2="187.3" y2="533.94" stroke="#909090" stroke-width="0.9"/>
<line x1="186.4" y1="533.94" x2="188.2" y2="533.94" stroke="#555" stroke-width="0.9"/>
<text x="187.3" y="534.94" font-size="5.2" text-anchor="middle" fill="#333" color="#333">*</text>
<text x="188.94" y="694.7" font-size="5.4" text-anchor="end" fill="#222" color="#222" transform="rotate(-90 188.94 694.7)">OGD (24 h)</text>
<rect x="197.5" y="577.96" width="3.8" height="114.44" fill="#4474bd"/>
<line x1="199.7" y1="577.96" x2="199.7" y2="603.36" stroke="#35609e" stroke-width="0.7"/>
<line x1="199.7" y1="577.96" x2="199.7" y2="552.56" stroke="#909090" stroke-width="0.9"/>
<line x1="198.8" y1="552.56" x2="200.6" y2="552.56" stroke="#555" stroke-width="0.9"/>
<text x="201.34" y="694.7" font-size="5.4" text-anchor="end" fill="#222" color="#222" transform="rotate(-90 201.34 694.7)">OGD+lps (24 h)</text>
<rect x="209.9" y="589.18" width="3.8" height="103.22" fill="#4474bd"/>
<line x1="212.1" y1="589.18" x2="212.1" y2="598.66" stroke="#35609e" stroke-width="0.7"/>
<line x1="212.1" y1="589.18" x2="212.1" y2="579.71" stroke="#909090" stroke-width="0.9"/>
<line x1="211.2" y1="579.71" x2="213" y2="579.71" stroke="#555" stroke-width="0.9"/>
<text x="213.74" y="694.7" font-size="5.4" text-anchor="end" fill="#222" color="#222" transform="rotate(-90 213.74 694.7)">Control (48 h)</text>
<rect x="222.3" y="553.97" width="3.8" height="138.43" fill="#4474bd"/>
<line x1="224.5" y1="553.97" x2="224.5" y2="568.75" stroke="#35609e" stroke-width="0.7"/>
<line x1="224.5" y1="553.97" x2="224.5" y2="539.18" stroke="#909090" stroke-width="0.9"/>
<line x1="223.6" y1="539.18" x2="225.4" y2="539.18" stroke="#555" stroke-width="0.9"/>
<text x="224.5" y="540.18" font-size="5.2" text-anchor="middle" fill="#333" color="#333">*</text>
<text x="226.14" y="694.7" font-size="5.4" text-anchor="end" fill="#222" color="#222" transform="rotate(-90 226.14 694.7)">OGD (48 h)</text>
<rect x="234.7" y="574.4" width="3.8" height="118" fill="#4474bd"/>
<line x1="236.9" y1="574.4" x2="236.9" y2="583.2" stroke="#35609e" stroke-width="0.7"/>
<line x1="236.9" y1="574.4" x2="236.9" y2="565.59" stroke="#909090" stroke-width="0.9"/>
<line x1="236" y1="565.59" x2="237.8" y2="565.59" stroke="#555" stroke-width="0.9"/>
<text x="238.54" y="694.7" font-size="5.4" text-anchor="end" fill="#222" color="#222" transform="rotate(-90 238.54 694.7)">OGD+lps (48 h)</text>
<path d="M98.3 548.3 V546.7 H128.3 V548.3" fill="none" stroke="#3a3a3a" stroke-width="0.9"/>
<text x="113.3" y="547.6" font-size="5.2" text-anchor="middle" fill="#333" color="#333">*</text>
<path d="M110.8 555.1 V553.5 H129 V555.1" fill="none" stroke="#3a3a3a" stroke-width="0.9"/>
<path d="M118.6 552.5 L119.9 550.7 L121.2 552.5" fill="none" stroke="#444" stroke-width="0.6"/>
<path d="M138.1 540.7 V539.1 H161.8 V540.7" fill="none" stroke="#3a3a3a" stroke-width="0.9"/>
<text x="149.95" y="540" font-size="5.2" text-anchor="middle" fill="#333" color="#333">*</text>
<path d="M148.6 546.4 V544.8 H161.8 V546.4" fill="none" stroke="#3a3a3a" stroke-width="0.9"/>
<path d="M153.9 543.8 L155.2 542 L156.5 543.8" fill="none" stroke="#444" stroke-width="0.6"/>
<path d="M174.2 527.8 V526.2 H201.6 V527.8" fill="none" stroke="#3a3a3a" stroke-width="0.9"/>
<text x="187.9" y="527.1" font-size="5.2" text-anchor="middle" fill="#333" color="#333">*</text>
<path d="M186.3 533.4 V531.8 H201.6 V533.4" fill="none" stroke="#3a3a3a" stroke-width="0.9"/>
<path d="M192.65 530.8 L193.95 529 L195.25 530.8" fill="none" stroke="#444" stroke-width="0.6"/>
<path d="M212.1 529.8 V528.2 H237.7 V529.8" fill="none" stroke="#3a3a3a" stroke-width="0.9"/>
<text x="224.9" y="529.1" font-size="5.2" text-anchor="middle" fill="#333" color="#333">*</text>
<path d="M223.9 536.8 V535.2 H238.4 V536.8" fill="none" stroke="#3a3a3a" stroke-width="0.9"/>
<path d="M229.85 534.2 L231.15 532.4 L232.45 534.2" fill="none" stroke="#444" stroke-width="0.6"/>
<text font-size="9" text-anchor="middle" fill="#111" color="#111" transform="translate(143 519.4) scale(1 1.08)">Hes1</text>
<text x="37" y="515" font-size="10.5" text-anchor="start" font-weight="bold" fill="#000" color="#000">G</text>
<text x="150.5" y="743" font-size="8.3" text-anchor="middle" fill="#222" color="#222">Groups</text>
<text x="42.3" y="607.6" font-size="6.9" text-anchor="middle" fill="#222" color="#222" transform="rotate(-90 42.3 607.6)">Relative protein expression</text>
<line x1="278.47" y1="693.8" x2="467.02" y2="693.8" stroke="#a6a6a6" stroke-width="0.8"/>
<text x="278.67" y="696.18" font-size="6.6" text-anchor="end" fill="#222" color="#222">0.0</text>
<line x1="278.47" y1="660.3" x2="467.02" y2="660.3" stroke="#a6a6a6" stroke-width="0.8"/>
<text x="278.67" y="662.68" font-size="6.6" text-anchor="end" fill="#222" color="#222">0.5</text>
<line x1="278.47" y1="626.8" x2="467.02" y2="626.8" stroke="#a6a6a6" stroke-width="0.8"/>
<text x="278.67" y="629.18" font-size="6.6" text-anchor="end" fill="#222" color="#222">1.0</text>
<line x1="278.47" y1="593.3" x2="467.02" y2="593.3" stroke="#a6a6a6" stroke-width="0.8"/>
<text x="278.67" y="595.68" font-size="6.6" text-anchor="end" fill="#222" color="#222">1.5</text>
<line x1="278.47" y1="559.8" x2="467.02" y2="559.8" stroke="#a6a6a6" stroke-width="0.8"/>
<text x="278.67" y="562.18" font-size="6.6" text-anchor="end" fill="#222" color="#222">2.0</text>
<line x1="278.47" y1="526.3" x2="467.02" y2="526.3" stroke="#a6a6a6" stroke-width="0.8"/>
<text x="278.67" y="528.68" font-size="6.6" text-anchor="end" fill="#222" color="#222">2.5</text>
<line x1="280.27" y1="526.3" x2="280.27" y2="693.8" stroke="#a6a6a6" stroke-width="0.9"/>
<line x1="280.27" y1="693.8" x2="280.27" y2="695.8" stroke="#a6a6a6" stroke-width="0.8"/>
<line x1="292.72" y1="693.8" x2="292.72" y2="695.8" stroke="#a6a6a6" stroke-width="0.8"/>
<line x1="305.17" y1="693.8" x2="305.17" y2="695.8" stroke="#a6a6a6" stroke-width="0.8"/>
<line x1="317.62" y1="693.8" x2="317.62" y2="695.8" stroke="#a6a6a6" stroke-width="0.8"/>
<line x1="330.07" y1="693.8" x2="330.07" y2="695.8" stroke="#a6a6a6" stroke-width="0.8"/>
<line x1="342.52" y1="693.8" x2="342.52" y2="695.8" stroke="#a6a6a6" stroke-width="0.8"/>
<line x1="354.97" y1="693.8" x2="354.97" y2="695.8" stroke="#a6a6a6" stroke-width="0.8"/>
<line x1="367.42" y1="693.8" x2="367.42" y2="695.8" stroke="#a6a6a6" stroke-width="0.8"/>
<line x1="379.88" y1="693.8" x2="379.88" y2="695.8" stroke="#a6a6a6" stroke-width="0.8"/>
<line x1="392.32" y1="693.8" x2="392.32" y2="695.8" stroke="#a6a6a6" stroke-width="0.8"/>
<line x1="404.77" y1="693.8" x2="404.77" y2="695.8" stroke="#a6a6a6" stroke-width="0.8"/>
<line x1="417.22" y1="693.8" x2="417.22" y2="695.8" stroke="#a6a6a6" stroke-width="0.8"/>
<line x1="429.67" y1="693.8" x2="429.67" y2="695.8" stroke="#a6a6a6" stroke-width="0.8"/>
<line x1="442.12" y1="693.8" x2="442.12" y2="695.8" stroke="#a6a6a6" stroke-width="0.8"/>
<line x1="454.57" y1="693.8" x2="454.57" y2="695.8" stroke="#a6a6a6" stroke-width="0.8"/>
<line x1="467.02" y1="693.8" x2="467.02" y2="695.8" stroke="#a6a6a6" stroke-width="0.8"/>
<rect x="284.1" y="582.98" width="4.8" height="110.82" fill="#4474bd"/>
<line x1="286.8" y1="582.98" x2="286.8" y2="585.86" stroke="#35609e" stroke-width="0.7"/>
<line x1="286.8" y1="582.98" x2="286.8" y2="580.1" stroke="#909090" stroke-width="0.9"/>
<line x1="285.9" y1="580.1" x2="287.7" y2="580.1" stroke="#555" stroke-width="0.9"/>
<text x="288.82" y="695.4" font-size="6.45" text-anchor="end" fill="#222" color="#222" transform="rotate(-90 288.82 695.4)">Control (0 h)</text>
<rect x="296.55" y="579.43" width="4.8" height="114.37" fill="#4474bd"/>
<line x1="299.25" y1="579.43" x2="299.25" y2="584.72" stroke="#35609e" stroke-width="0.7"/>
<line x1="299.25" y1="579.43" x2="299.25" y2="574.14" stroke="#909090" stroke-width="0.9"/>
<line x1="298.35" y1="574.14" x2="300.15" y2="574.14" stroke="#555" stroke-width="0.9"/>
<text x="301.27" y="695.4" font-size="6.45" text-anchor="end" fill="#222" color="#222" transform="rotate(-90 301.27 695.4)">OGD (0 h)</text>
<rect x="309" y="598.19" width="4.8" height="95.61" fill="#4474bd"/>
<line x1="311.7" y1="598.19" x2="311.7" y2="608.84" stroke="#35609e" stroke-width="0.7"/>
<line x1="311.7" y1="598.19" x2="311.7" y2="587.54" stroke="#909090" stroke-width="0.9"/>
<line x1="310.8" y1="587.54" x2="312.6" y2="587.54" stroke="#555" stroke-width="0.9"/>
<text x="313.72" y="695.4" font-size="6.45" text-anchor="end" fill="#222" color="#222" transform="rotate(-90 313.72 695.4)">OGD+lps (0 h)</text>
<rect x="321.45" y="572.33" width="4.8" height="121.47" fill="#4474bd"/>
<line x1="324.15" y1="572.33" x2="324.15" y2="575.14" stroke="#35609e" stroke-width="0.7"/>
<line x1="324.15" y1="572.33" x2="324.15" y2="569.51" stroke="#909090" stroke-width="0.9"/>
<line x1="323.25" y1="569.51" x2="325.05" y2="569.51" stroke="#555" stroke-width="0.9"/>
<text x="326.17" y="695.4" font-size="6.45" text-anchor="end" fill="#222" color="#222" transform="rotate(-90 326.17 695.4)">Control (6 h)</text>
<rect x="333.9" y="569.18" width="4.8" height="124.62" fill="#4474bd"/>
<line x1="336.6" y1="569.18" x2="336.6" y2="590.08" stroke="#35609e" stroke-width="0.7"/>
<line x1="336.6" y1="569.18" x2="336.6" y2="548.28" stroke="#909090" stroke-width="0.9"/>
<line x1="335.7" y1="548.28" x2="337.5" y2="548.28" stroke="#555" stroke-width="0.9"/>
<text x="336.6" y="549.28" font-size="5.2" text-anchor="middle" fill="#333" color="#333">*</text>
<text x="338.62" y="695.4" font-size="6.45" text-anchor="end" fill="#222" color="#222" transform="rotate(-90 338.62 695.4)">OGD (6 h)</text>
<rect x="346.35" y="575.88" width="4.8" height="117.92" fill="#4474bd"/>
<line x1="349.05" y1="575.88" x2="349.05" y2="583.65" stroke="#35609e" stroke-width="0.7"/>
<line x1="349.05" y1="575.88" x2="349.05" y2="568.11" stroke="#909090" stroke-width="0.9"/>
<line x1="348.15" y1="568.11" x2="349.95" y2="568.11" stroke="#555" stroke-width="0.9"/>
<text x="351.07" y="695.4" font-size="6.45" text-anchor="end" fill="#222" color="#222" transform="rotate(-90 351.07 695.4)">OGD+lps (6 h)</text>
<rect x="358.8" y="574.81" width="4.8" height="118.99" fill="#4474bd"/>
<line x1="361.5" y1="574.81" x2="361.5" y2="578.69" stroke="#35609e" stroke-width="0.7"/>
<line x1="361.5" y1="574.81" x2="361.5" y2="570.92" stroke="#909090" stroke-width="0.9"/>
<line x1="360.6" y1="570.92" x2="362.4" y2="570.92" stroke="#555" stroke-width="0.9"/>
<text x="363.52" y="695.4" font-size="6.45" text-anchor="end" fill="#222" color="#222" transform="rotate(-90 363.52 695.4)">Control (12 h)</text>
<rect x="371.25" y="580.1" width="4.8" height="113.7" fill="#4474bd"/>
<line x1="373.95" y1="580.1" x2="373.95" y2="586.06" stroke="#35609e" stroke-width="0.7"/>
<line x1="373.95" y1="580.1" x2="373.95" y2="574.14" stroke="#909090" stroke-width="0.9"/>
<line x1="373.05" y1="574.14" x2="374.85" y2="574.14" stroke="#555" stroke-width="0.9"/>
<text x="373.95" y="575.14" font-size="5.2" text-anchor="middle" fill="#333" color="#333">*</text>
<text x="375.97" y="695.4" font-size="6.45" text-anchor="end" fill="#222" color="#222" transform="rotate(-90 375.97 695.4)">OGD (12 h)</text>
<rect x="383.7" y="573.07" width="4.8" height="120.73" fill="#4474bd"/>
<line x1="386.4" y1="573.07" x2="386.4" y2="576.62" stroke="#35609e" stroke-width="0.7"/>
<line x1="386.4" y1="573.07" x2="386.4" y2="569.51" stroke="#909090" stroke-width="0.9"/>
<line x1="385.5" y1="569.51" x2="387.3" y2="569.51" stroke="#555" stroke-width="0.9"/>
<text x="388.42" y="695.4" font-size="6.45" text-anchor="end" fill="#222" color="#222" transform="rotate(-90 388.42 695.4)">OGD+lps (12 h)</text>
<rect x="396.15" y="580.5" width="4.8" height="113.3" fill="#4474bd"/>
<line x1="398.85" y1="580.5" x2="398.85" y2="581.91" stroke="#35609e" stroke-width="0.7"/>
<line x1="398.85" y1="580.5" x2="398.85" y2="579.1" stroke="#909090" stroke-width="0.9"/>
<line x1="397.95" y1="579.1" x2="399.75" y2="579.1" stroke="#555" stroke-width="0.9"/>
<text x="400.87" y="695.4" font-size="6.45" text-anchor="end" fill="#222" color="#222" transform="rotate(-90 400.87 695.4)">Control (24 h)</text>
<rect x="408.6" y="596.05" width="4.8" height="97.75" fill="#4474bd"/>
<line x1="411.3" y1="596.05" x2="411.3" y2="608.04" stroke="#35609e" stroke-width="0.7"/>
<line x1="411.3" y1="596.05" x2="411.3" y2="584.05" stroke="#909090" stroke-width="0.9"/>
<line x1="410.4" y1="584.05" x2="412.2" y2="584.05" stroke="#555" stroke-width="0.9"/>
<text x="411.3" y="585.05" font-size="5.2" text-anchor="middle" fill="#333" color="#333">*</text>
<text x="413.32" y="695.4" font-size="6.45" text-anchor="end" fill="#222" color="#222" transform="rotate(-90 413.32 695.4)">OGD (24 h)</text>
<rect x="421.05" y="597.12" width="4.8" height="96.68" fill="#4474bd"/>
<line x1="423.75" y1="597.12" x2="423.75" y2="601.74" stroke="#35609e" stroke-width="0.7"/>
<line x1="423.75" y1="597.12" x2="423.75" y2="592.5" stroke="#909090" stroke-width="0.9"/>
<line x1="422.85" y1="592.5" x2="424.65" y2="592.5" stroke="#555" stroke-width="0.9"/>
<text x="425.77" y="695.4" font-size="6.45" text-anchor="end" fill="#222" color="#222" transform="rotate(-90 425.77 695.4)">OGD+lps (24 h)</text>
<rect x="433.5" y="573.07" width="4.8" height="120.73" fill="#4474bd"/>
<line x1="436.2" y1="573.07" x2="436.2" y2="573.8" stroke="#35609e" stroke-width="0.7"/>
<line x1="436.2" y1="573.07" x2="436.2" y2="572.33" stroke="#909090" stroke-width="0.9"/>
<line x1="435.3" y1="572.33" x2="437.1" y2="572.33" stroke="#555" stroke-width="0.9"/>
<text x="438.22" y="695.4" font-size="6.45" text-anchor="end" fill="#222" color="#222" transform="rotate(-90 438.22 695.4)">Control (48 h)</text>
<rect x="445.95" y="562.75" width="4.8" height="131.05" fill="#4474bd"/>
<line x1="448.65" y1="562.75" x2="448.65" y2="576.15" stroke="#35609e" stroke-width="0.7"/>
<line x1="448.65" y1="562.75" x2="448.65" y2="549.35" stroke="#909090" stroke-width="0.9"/>
<line x1="447.75" y1="549.35" x2="449.55" y2="549.35" stroke="#555" stroke-width="0.9"/>
<text x="448.65" y="550.35" font-size="5.2" text-anchor="middle" fill="#333" color="#333">*</text>
<text x="450.67" y="695.4" font-size="6.45" text-anchor="end" fill="#222" color="#222" transform="rotate(-90 450.67 695.4)">OGD (48 h)</text>
<rect x="458.4" y="589.35" width="4.8" height="104.45" fill="#4474bd"/>
<line x1="461.1" y1="589.35" x2="461.1" y2="595.38" stroke="#35609e" stroke-width="0.7"/>
<line x1="461.1" y1="589.35" x2="461.1" y2="583.32" stroke="#909090" stroke-width="0.9"/>
<line x1="460.2" y1="583.32" x2="462" y2="583.32" stroke="#555" stroke-width="0.9"/>
<text x="463.12" y="695.4" font-size="6.45" text-anchor="end" fill="#222" color="#222" transform="rotate(-90 463.12 695.4)">OGD+lps (48 h)</text>
<path d="M335.3 541.5 V539.9 H349.75 V541.5" fill="none" stroke="#3a3a3a" stroke-width="0.9"/>
<path d="M341.22 538.9 L342.52 537.1 L343.82 538.9" fill="none" stroke="#444" stroke-width="0.6"/>
<path d="M372.65 548.6 V547 H387.1 V548.6" fill="none" stroke="#3a3a3a" stroke-width="0.9"/>
<path d="M378.57 546 L379.88 544.2 L381.18 546" fill="none" stroke="#444" stroke-width="0.6"/>
<path d="M410 574 V572.4 H424.45 V574" fill="none" stroke="#3a3a3a" stroke-width="0.9"/>
<path d="M415.93 571.4 L417.23 569.6 L418.53 571.4" fill="none" stroke="#444" stroke-width="0.6"/>
<path d="M447.35 545.7 V544.1 H461.8 V545.7" fill="none" stroke="#3a3a3a" stroke-width="0.9"/>
<text x="454.57" y="545" font-size="5.2" text-anchor="middle" fill="#333" color="#333">*</text>
<text font-size="9" text-anchor="middle" fill="#111" color="#111" transform="translate(366 521) scale(1 1.08)">β-actin</text>
<text x="253.5" y="521.2" font-size="10.5" text-anchor="start" font-weight="bold" fill="#000" color="#000">H</text>
<text x="374" y="750" font-size="8.3" text-anchor="middle" fill="#222" color="#222">Groups</text>
<text x="265.6" y="611" font-size="8.3" text-anchor="middle" fill="#222" color="#222" transform="rotate(-90 265.6 611)">Protein expression</text>
<line x1="467.2" y1="260" x2="467.2" y2="436" stroke="#efefef" stroke-width="0.8"/>
<line x1="246.6" y1="514" x2="246.6" y2="692" stroke="#efefef" stroke-width="0.8"/>
</svg>
</body></html>
